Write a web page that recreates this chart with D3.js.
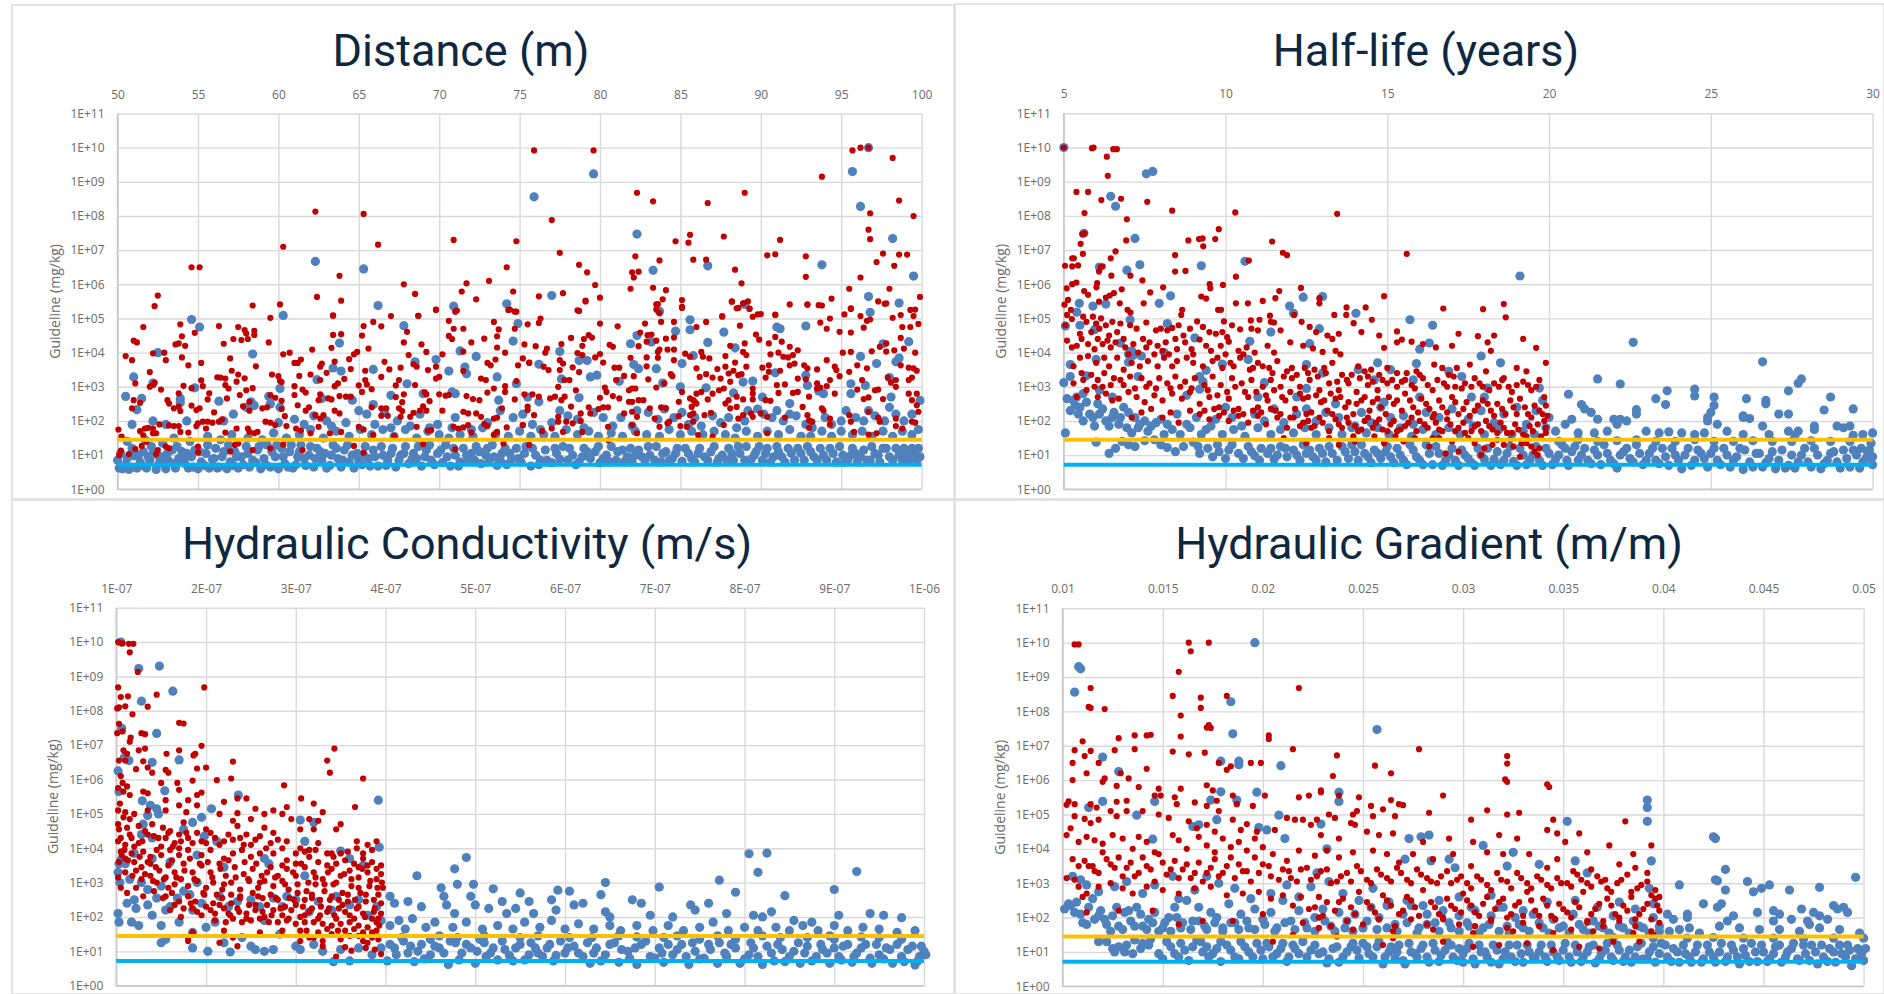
<!DOCTYPE html>
<html lang="en">
<head>
<meta charset="utf-8">
<title>Guideline sensitivity scatter</title>
<script src="https://cdn.jsdelivr.net/npm/d3@7"></script>
<style>
html,body{margin:0;padding:0;background:#fff;}
svg{display:block;}
</style>
</head>
<body>
<div id="chart"></div>
<script>
// points are [x, log10(guideline in mg/kg)]
var guidelineOrange = 28, guidelineBlue = 5.2;
var yExponents = [0,1,2,3,4,5,6,7,8,9,10,11];

var distanceTicks = [50,55,60,65,70,75,80,85,90,95,100];
var halfLifeTicks = [5,10,15,20,25,30];
// conductivity x is in units of 1E-07 m/s
var conductivityTicks = [1,2,3,4,5,6,7,8,9,10];
var conductivityLabels = ["1E-07","2E-07","3E-07","4E-07","5E-07","6E-07","7E-07","8E-07","9E-07","1E-06"];
var gradientTicks = [0.01,0.015,0.02,0.025,0.03,0.035,0.04,0.045,0.05];

var distanceBlue = [[96.7,10],[79.6,9.23],[95.7,9.3],[75.9,8.56],[96.2,8.28],[82.3,7.47],[98.2,7.34],[62.3,6.67],[65.3,6.45],[93.8,6.57],[86.7,6.54],[83.3,6.41],[99.5,6.24],[77,5.67],[96.7,5.64],[70.9,5.36],[74.2,5.43],[66.2,5.38],[89,5.41],[98.6,5.45],[96.8,5.18],[83.7,5.21],[60.3,5.09],[54.6,4.97],[55.1,4.75],[85.6,4.96],[74.9,4.85],[85.6,4.67],[67.8,4.79],[91,4.75],[91.2,4.7],[92.8,4.78],[84.7,4.63],[87.7,4.6],[82.3,4.5],[81.9,4.26],[83.2,4.31],[63.8,4.28],[74.6,4.34],[86.7,4.3],[97.6,4.26],[99.2,4.32],[52.5,4],[58.4,3.96],[77.5,4.03],[71.3,4.05],[85.8,3.91],[88.4,4.14],[72.3,3.89],[96.2,3.89],[98.6,3.84],[68.5,3.73],[69.8,3.8],[78.7,3.77],[79.2,3.77],[65.9,3.51],[63.4,3.55],[63.9,3.46],[85.1,3.68],[83.5,3.53],[97.2,3.68],[98.4,3.73],[76.2,3.66],[71.6,3.58],[70.6,3.46],[71.7,3.38],[82.1,3.65],[82.4,3.53],[90.9,3.41],[51,3.29],[98,3.27],[92.8,3.34],[77.6,3.23],[79.8,3.34],[79.4,3.29],[73.6,3.29],[62.4,3.21],[68,3.09],[89.5,3.17],[74.8,3.09],[81.2,3.16],[83.9,3.11],[88.9,3.14],[95.6,3.09],[52.2,3.11],[60.1,2.95],[54.8,2.97],[92.9,3.04],[93.6,2.88],[96.5,3.04],[85,3],[86.6,2.97],[50.5,2.72],[51.5,2.66],[53.9,2.66],[53.9,2.54],[56.3,2.58],[58.3,2.56],[59.4,2.72],[62.7,2.66],[64.6,2.61],[65.9,2.48],[67,2.75],[69,2.8],[71,2.8],[70.8,2.85],[73.7,2.61],[75.5,2.7],[76.2,2.56],[78.7,2.68],[88.3,2.82],[90.1,2.7],[91.8,2.51],[93.9,2.8],[95.6,2.8],[98.1,2.7],
[51.2,2.33],[52.2,2],[50.9,1.9],[53,1.9],[54.3,2],[56.6,2],[57.2,2.2],[58,2.4],[58.5,2.45],[59.5,2.5],[60,1.95],[60.1,2.4],[61,2.05],[61.6,1.9],[62.2,2.15],[63,2],[63.3,1.85],[64.2,1.95],[65,2.3],[65.5,2.2],[66,1.9],[66.6,2.25],[67,1.8],[67.4,2],[68.2,1.85],[68.8,2.2],[69.4,1.8],[69.9,1.9],[70.8,1.8],[71,2.1],[72,1.75],[73,1.95],[73.8,2.3],[74.6,2.1],[75.2,2.2],[75.8,1.9],[76.3,1.75],[77,1.95],[77.5,2.3],[78,2.15],[78.6,2.05],[79,1.8],[79.6,2.25],[80.2,2.1],[80.8,1.85],[81.3,2.1],[82,1.85],[82.3,2.3],[83,2.25],[83.6,2.05],[84,2.35],[84.6,2.1],[85.1,2.25],[85.5,1.9],[85.9,2.1],[86.3,1.85],[87,2.15],[87.5,1.95],[88,2.1],[88.5,1.8],[89,2],[89.2,2.3],[89.8,2.35],[90.2,2.2],[90.7,2.1],[91,2.3],[91.4,2],[91.8,2.2],[92.2,2.15],[92.8,1.9],[93.2,1.8],[94,2.1],[94.4,1.9],[95,2],[95.3,2.3],[95.9,2.1],[96.4,2],[96.7,2.3],[97.1,2.15],[97.7,2],[98,2.4],[98.4,2.2],[98.9,2],[99.4,2.2],[99.9,2.6],
[50,0.85],[50.1,0.62],[50.3,0.6],[50.5,0.72],[50.7,0.58],[50.9,0.65],[51,0.98],[51.2,0.62],[51.4,0.8],[51.6,1.1],[51.8,0.62],[52,0.85],[52.2,1.05],[52.4,0.58],[52.6,0.78],[52.8,0.95],[53,0.6],[53.2,0.82],[53.4,1.15],[53.6,0.62],[53.8,0.9],[54,1.1],[54.2,0.75],[54.4,0.62],[54.6,0.95],[54.8,1.15],[55,0.6],[55.2,0.8],[55.5,1.05],[55.7,0.62],[55.9,0.88],[56.1,1.2],[56.3,0.65],[56.5,0.95],[56.8,0.6],[57,0.8],[57.3,1.1],[57.5,0.62],[57.7,0.95],[58,1.25],[58.2,0.65],[58.4,0.85],[58.7,1.15],[58.9,0.6],[59.1,0.9],[59.3,1.3],[59.5,0.65],[59.8,0.95],[60,0.6],[60.2,1.2],[60.4,0.75],[60.7,1.1],[60.9,0.62],[61.2,0.95],[61.4,1.3],[61.7,0.7],[61.9,1],[62.2,0.65],[62.4,1.2],[62.7,0.85],[62.9,1.05],[63.2,0.7],[63.4,1.3],[63.7,0.9],[63.9,0.65],[64.1,1.15],[64.4,0.8],[64.7,0.62],[64.9,1.05],[65.2,0.72],[65.4,1.25],[65.6,0.9],[65.9,1.15],[66.2,0.68],[66.5,1],[66.8,0.85],[67.1,1.2],[67.3,0.65],[67.6,1],[67.9,1.25],[68.1,0.75],[68.4,1.05],[68.6,0.9],[68.9,0.68],[69.2,1.15],[69.5,0.85],[69.9,1.05],[70.2,0.78],[70.4,1.3],[70.7,0.68],[71,1],[71.3,0.8],[71.5,1.2],[71.8,0.85],[72,1.05],[72.3,1.25],[72.6,0.75],[72.9,1],[73.1,0.85],[73.3,1.3],[73.6,0.7],[73.9,1.05],[74.2,0.72],[74.5,0.88],[74.8,1.2],[75.1,0.8],[75.4,1.25],[75.7,0.68],[76,1],[76.3,0.85],[76.6,1.15],[77,0.78],[77.3,1.05],[77.7,1.25],[78,0.85],[78.3,1],[78.7,0.8],[79,1.2],[79.4,0.9],[79.7,1.1],[80,0.78],[80.4,1],[80.7,1.25],[81,0.85],[81.4,1.15],[81.7,0.95],[82,0.8],[82.4,1.15],[82.8,0.85],[83.1,1],[83.5,1.25],[83.8,0.8],[84.1,1.1],[84.5,0.9],[84.8,1.2],[85.1,0.82],[85.5,1.05],[85.9,0.8],[86.2,1.2],[86.5,0.95],[86.9,1.1],[87.3,0.8],[87.6,1],[88,1.2],[88.3,0.85],[88.7,1.05],[89.1,1.25],[89.4,0.88],[89.7,1.1],[90.1,0.85],[90.4,1.2],[90.8,0.95],[91.1,1.1],[91.5,0.8],[91.9,1.05],[92.3,1.2],[92.7,0.85],[93.1,1.1],[93.5,0.85],[93.9,1],[94.3,1.2],[94.7,0.8],[95.1,1],[95.4,0.85],[95.7,1.2],[96,0.8],[96.4,1.15],[96.8,0.85],[97.1,1.05],[97.4,0.8],[97.8,1.2],[98.2,0.85],[98.6,1],[98.9,1.2],[99.2,0.85],[99.5,1.05],[99.8,1.2],[99.9,0.95]];

// second reading pass over the low band of the Distance panel
var distanceBlueBand = [[50.2,1.05],[50.6,0.9],[50.9,1.2],[51.3,1],[51.5,0.7],[51.9,0.95],[52.1,1.25],[52.5,1],[52.9,0.72],[53.1,1.05],[53.5,0.75],[53.7,1.25],[54.1,0.85],[54.3,1.05],[54.7,0.65],[55.1,1.1],[55.4,0.7],[55.6,1.3],[56,0.9],[56.2,0.62],[56.6,1.1],[56.9,1.3],[57.2,0.7],[57.4,0.95],[57.8,0.72],[58.1,1.05],[58.6,0.78],[58.8,1.25],[59.2,0.72],[59.6,1.1],[59.9,1.3],[60.3,0.95],[60.6,0.65],[60.8,1.3],[61.1,0.72],[61.3,1.1],[61.6,0.9],[62,1.25],[62.3,0.9],[62.6,1.1],[63,0.62],[63.3,1],[63.6,1.2],[64,0.85],[64.3,1.3],[64.6,1],[65,0.85],[65.3,1],[65.7,0.68],[66,0.95],[66.4,1.25],[66.7,0.7],[67,1.05],[67.5,0.85],[67.8,1.05],[68.3,0.88],[68.7,1.25],[69.1,0.95],[69.4,1.3],[69.7,0.72],[70.1,1.15],[70.5,0.95],[70.9,1.2],[71.2,0.68],[71.7,1],[72.2,0.85],[72.5,1.1],[73,1.2],[73.4,0.95],[73.8,0.85],[74.1,1.2],[74.4,1.05],[74.9,0.9],[75.3,1.05],[75.8,1.2],[76.2,0.72],[76.7,0.85],[77.2,1.2],[77.5,0.88],[78.1,1.2],[78.5,0.72],[78.9,0.95],[79.2,1.1],[79.9,1.25],[80.2,0.9],[80.6,0.8],[81.1,1.1],[81.5,0.8],[81.9,1.2],[82.2,1],[82.6,0.95],[83,1.25],[83.4,0.85],[83.9,1.05],[84.3,0.85],[84.7,1.05],[85.3,1.2],[85.7,0.9],[86.1,1.05],[86.7,0.85],[87.1,1.25],[87.4,0.9],[87.9,0.85],[88.2,1.05],[88.6,1.25],[89,0.85],[89.6,1],[89.9,1.25],[90.3,1.05],[90.6,0.8],[91,1.25],[91.3,0.95],[91.7,1.2],[92.1,0.85],[92.5,1.05],[92.9,1.25],[93.3,0.95],[93.7,1.2],[94.1,0.85],[94.5,1.05],[94.9,1.25],[95.2,0.8],[95.6,1],[95.9,1.05],[96.2,0.95],[96.6,0.85],[96.9,1.25],[97.3,1],[97.6,1.2],[98,0.95],[98.4,1.2],[98.8,0.85],[99.1,1.05],[99.4,1.2],[99.7,0.85],
[50.6,1.4],[51.7,1.45],[52.8,1.35],[53.5,1.5],[54.5,1.4],[55.6,1.55],[56.4,1.45],[57.1,1.6],[58.1,1.5],[59,1.45],[59.7,1.65],[60.5,1.5],[61.3,1.6],[62,1.75],[62.8,1.5],[63.6,1.7],[64.4,1.55],[65.1,1.75],[65.8,1.6],[66.5,1.75],[67.2,1.55],[67.9,1.75],[68.6,1.5],[69.3,1.7],[70,1.6],[70.6,1.5],[71.3,1.6],[72.1,1.55],[72.7,1.8],[73.5,1.6],[74.3,1.55],[75,1.7],[75.7,1.55],[76.5,1.6],[77.2,1.55],[77.9,1.75],[78.6,1.6],[79.3,1.7],[79.9,1.55],[80.7,1.65],[81.4,1.55],[82.2,1.7],[82.9,1.6],[83.7,1.55],[84.3,1.75],[85,1.6],[85.7,1.7],[86.4,1.6],[87.1,1.7],[87.8,1.6],[88.4,1.5],[89.1,1.7],[89.8,1.55],[90.4,1.7],[91.1,1.6],[91.8,1.75],[92.5,1.55],[93.1,1.55],[93.8,1.7],[94.4,1.55],[95,1.7],[95.7,1.6],[96.3,1.7],[96.9,1.55],[97.6,1.7],[98.2,1.55],[98.8,1.7],[99.4,1.6],[99.8,1.75]];

var distanceRed = [[75.9,9.92],[79.6,9.92],[95.7,9.92],[96.2,10],[96.7,10],[98.2,9.7],[93.8,9.15],[82.3,8.68],[89,8.68],[83.3,8.43],[86.7,8.38],[98.6,8.45],[62.3,8.13],[65.3,8.06],[96.8,8.08],[99.5,8],[77,7.88],[96.7,7.6],[85.6,7.45],[87.7,7.4],[70.9,7.3],[84.7,7.26],[85.5,7.22],[74.8,7.26],[91.2,7.3],[96.8,7.32],[66.2,7.16],[60.3,7.1],[77.5,6.92],[90.4,6.85],[90.9,6.88],[92.8,6.82],[97.6,6.9],[98.6,6.87],[99.1,6.87],[82.2,6.82],[83.7,6.7],[85.8,6.72],[86.6,6.72],[97.2,6.65],[54.6,6.5],[55.1,6.5],[74.2,6.5],[78.7,6.57],[88.4,6.43],[98.3,6.54],[63.8,6.25],[79.2,6.35],[82,6.35],[82.4,6.37],[82.1,6.2],[92.8,6.22],[96.2,6.2],[73.1,6.1],[88.8,6.03],[71.7,6.03],[67.8,6],[79.7,5.98],[81.9,5.87],[83.3,5.9],[84.1,5.83],[71.4,5.79],[95.5,5.87],[98,5.87],[68.5,5.72],[74.6,5.79],[52.5,5.67],[62.4,5.63],[76.2,5.65],[77.7,5.74],[80,5.61],[83.9,5.56],[99.9,5.63],[63.9,5.52],[72.3,5.56],[79.1,5.52],[85.1,5.54],[88.2,5.5],[94.4,5.58],[97.3,5.5],[89.2,5.5],[52.3,5.36],[58.4,5.38],[60.1,5.41],[83.5,5.41],[93.8,5.38],[91.8,5.41],[92.9,5.41],[97.7,5.43],[88.6,5.31],[89.3,5.28],[95.6,5.28],[85.1,5.31],[78.7,5.22],[74.3,5.25],[74.8,5.2],[99.3,5.25],[71.1,5.23],[69.8,5.25],[63.4,5.08],[68.7,5.08],[83.7,5.15],[87.6,5.05],[90,5.13],[90.9,5.11],
[51.6,4.75],[53.9,4.83],[54,4.48],[54.8,4.58],[56.3,4.78],[57.5,4.75],[57.9,4.66],[58,4.56],[58.5,4.64],[58.5,4.52],[57.2,4.4],[57.7,4.37],[58.1,4.4],[56.6,4.26],[59.4,4.3],[59.5,5.02],[63.4,5.09],[67,5.07],[68.7,5.08],[69.8,5.26],[63.4,4.52],[63.9,4.54],[63.3,4.14],[65.3,4.78],[65.2,4.5],[65.9,4.9],[66.4,4.77],[68,4.61],[67.8,4.3],[68.9,4.24],[70.6,4.93],[71,5.2],[70.9,4.7],[71.5,4.7],[70.6,4.49],[70.8,4.4],[72,4.3],[72.8,4.41],[73.4,4.9],[73.7,4.68],[73.6,4.48],[74.4,5.26],[74.7,5.2],[74.7,4.7],[75.5,4.83],[75.3,4.24],[53.6,4.24],[53.8,4.27],[54.2,4.2],[51,4.35],[51.2,4.3],[52.2,3.98],[52.9,4],[50.5,3.9],[50.9,3.78],[53,3.78],[54,3.86],[54.4,3.63],[55.2,3.7],[57,3.83],[52,3.43],[57.1,3.47],[57.5,3.36],[58.6,3.6],[60.3,3.95],[60.7,4],[62.1,4.09],[64.4,3.81],[64.7,3.95],[64.9,4.02],[65.6,4.12],[61,3.7],[61.2,3.7],[61.4,3.8],[62.7,3.68],[62.6,3.59],[63.5,3.74],[63,3.41],[64.5,3.52],[65.4,3.47],[66.6,3.73],[66.9,3.51],[67.6,3.56],[68.1,3.93],[69.2,4.02],[70.2,3.95],[68.4,3.66],[68.6,3.59],[69.3,3.49],[69.8,3.59],[71.5,4.03],[71.5,3.46],[73,3.7],[73.2,3.63],[73.5,3.8],[74.1,4],[73.6,4.15],[75.2,3.83],[74.9,3.63],[75.6,3.7],
[51.1,3.1],[52.3,3.12],[52,3],[52.2,3.05],[54.1,3.03],[54.6,2.96],[55.2,3.19],[55.3,3.02],[56.2,3.28],[56.4,3.27],[56.7,3.24],[56.7,3.05],[56.9,2.95],[57.9,3.25],[57.4,3.15],[58.4,2.96],[59.6,3.36],[60,3.31],[60.1,3.17],[60.2,3.14],[61.3,3.32],[61,3.02],[62,3.36],[62.6,3.2],[63.5,3.02],[63.7,3.1],[64.1,3.23],[65,3.04],[65.4,3.2],[65.5,3.07],[65.2,2.85],[65.8,2.93],[66.4,3.29],[67.3,3.04],[67.5,3.2],[68.5,3.05],[69.8,3.24],[70,3.29],[70.6,2.76],[72.6,3.24],[72.9,3.2],[73.4,2.95],[74.1,3.02],[74.8,3.17],
[51,2.61],[50.9,2.37],[51.4,2.53],[52.7,2.92],[53.8,2.81],[53.1,2.61],[53.2,2.51],[53.5,2.37],[53.8,2.42],[53.9,2.29],[54.6,2.45],[54.9,2.32],[55.1,2.37],[55.6,2.63],[55.7,2.81],[56,2.25],[56.8,2.66],[57.6,2.76],[58,2.9],[58.2,2.56],[57.8,2.43],[58.2,2.3],[59,2.37],[59.3,2.4],[59.5,2.76],[59.8,2.68],[60.2,2.59],[60.2,2.35],[60.4,2.14],[61.2,2.46],[61,2.76],[61.5,2.92],[61.7,2.83],[61.7,2.3],[61.9,2.4],[62.5,2.61],[62.6,2.78],[63.1,2.66],[63.3,2.63],[63.8,2.73],[64.2,2.71],[64.5,2.71],[63.5,2.3],[63.8,2.22],[62.8,2.17],[62.6,2.07],[62.3,2.17],[67.3,2.7],[67.7,2.55],[67.8,2.78],[65.8,2.4],[66.4,2.37],[66.7,2.37],[66.4,2.15],[66.8,2.15],[67.5,2.37],[67.7,2.29],[67.6,2.12],[68.2,2.12],[68.4,2.24],[68.8,2.3],[69.1,2.84],[69.2,2.78],[69.4,2.58],[69,2.43],[69.2,2.3],[70,2.78],[70.4,2.74],[70.2,2.3],[71.5,2.27],[71.7,2.73],[72.1,2.64],[72.5,2.61],[71.8,2.22],[72.3,2.22],[72.6,2.12],[73,2.83],[74.1,2.85],[74.7,2.63],[73.9,2.37],[73.4,2.07],[73.6,2.1],[75.5,2.42],
[52.2,1.78],[51.7,1.78],[51.9,1.8],[51.4,1.7],[51.6,1.58],[52.2,1.64],[52.4,1.64],[52.6,1.9],[53.2,1.87],[53.5,1.85],[53.8,1.85],[53.9,1.68],[54.4,1.66],[54.9,1.85],[55,1.93],[55.5,1.78],[55.3,1.98],[55.6,1.98],[55.9,1.95],[56.3,1.98],[56.5,2.05],[56.7,1.66],[57.4,1.78],[58.1,1.78],[58.2,1.68],[58.5,1.64],[58.7,1.68],[59.2,1.98],[59.5,1.95],[59.8,1.88],[60.5,1.85],[61.1,1.78],[61.4,1.72],[62,1.64],[62.5,1.83],[63.2,1.64],[63.9,1.68],[65,1.83],[65.3,1.75],[65.9,1.59],[67.2,1.56],[68.6,1.83],[69.3,1.72],[69.5,1.73],[70.9,1.83],[71.2,1.78],[71.5,1.81],[71.8,1.88],[72,1.66],[72.8,1.91],[73,1.85],[73.4,1.59],[73.6,1.68],[74.2,1.81],[75.2,1.88],[50.05,1.75],[50.25,1.54],[50.1,1],[50.2,1.13],[50.7,1.03],[51.1,1.18],[51.5,1.27],[51.8,1.39],[52.4,1.03],[52.5,1.15],[53,1.25],[53.2,1.2],[55,1.25],[55,1.08],[57,1.11],[57.3,1.3],[57.5,1.34],[58.4,1.15],[59.5,1.2],[60.3,1.31],[61.5,1.15],[64.7,1.27],[65.3,1.07],[69,1.32],[71,1.17],[74,1.34],
[78.6,5.24],[79.1,5.5],[83.6,5.42],[83.5,5.26],[85.1,5.34],[87.6,5.07],[88.2,5.49],[88.5,5.3],[88.9,5.44],[89.3,5.29],[89.5,5.05],[89.8,5.12],[90.9,5.1],[92.9,5.4],[93.6,5.39],[95.2,5.12],[95.6,5.3],[96.2,5.07],[96.6,4.93],[96.8,4.97],[98.2,5.02],[98.7,5.1],[99.5,5.07],[99.6,5.26],[97.8,5.44],[76.3,5],[76.2,4.87],[80,4.85],[81.1,4.77],[82.8,4.85],[83.8,4.9],[84.6,4.9],[86,4.75],[86.6,4.9],[88.7,4.79],[93.7,4.88],[94.3,5],[94.1,4.7],[94.9,4.61],[95.6,4.59],[96.4,4.73],[98.8,4.75],[99.3,4.75],[99.8,4.84],[78.2,4.43],[79.3,4.51],[79,4.4],[79.5,4.44],[78.9,4.2],[77.6,4.25],[76,4.19],[76.7,4.12],[76.6,4],[78.6,3.99],[78.9,3.93],[77.5,3.78],[77.7,3.68],[75.6,3.71],[76.5,3.59],[76.8,3.49],[77.5,3.49],[78.3,3.57],[78.7,3.43],[80,3.96],[79.7,3.86],[80.2,3.71],[80.6,4.23],[80.8,4.17],[82.5,4.59],[82.96,4.51],[83.2,4.53],[83.5,4.35],[82.9,4.32],[82.4,4.19],[84.1,4.41],[84.6,4.44],[84.6,4.09],[84.2,4.09],[83.7,4.09],[83.6,4.02],[81.9,3.85],[82.9,3.86],[83.6,3.85],[84.6,3.78],[80.9,3.56],[81.2,3.56],[81.5,3.32],[82.1,3.31],[82.9,3.6],[84.4,3.37],[84.5,3.31],[83,3.22],[81,3.2],[85.3,3.97],[85.6,3.88],[86.3,4.02],[86.4,3.88],[86.8,3.83],[87.8,3.9],[88.1,4.2],[89,4.27],[88.9,4.02],[89.1,3.93],[89.1,3.59],[88.4,3.71],[87.8,3.59],[88.3,3.47],[88,3.39],[87.3,3.52],[86.6,3.37],[86,3.54],[86.2,3.29],[87,3.27],[87.5,3.24],[88.1,3.15],[88.6,3.34],[88.8,3.37],[89.7,4.53],[89.9,4.38],[90.5,4.27],[90.9,4.46],[91.3,4.32],[91.8,4.17],[92.3,4.07],[90.6,3.95],[91.1,4],[91.4,3.88],[92,3.93],[91.7,3.86],[90.1,3.56],[90.5,3.63],[90.5,3.44],[90.3,3.27],[91.2,3.47],[91.8,3.63],[92.1,3.68],[92.7,3.63],[92.9,3.54],[92.3,3.24],[92.8,3.22],[93.5,3.51],[93.5,3.1],[94.1,3.78],[94.6,3.59],[94.7,3.49],[94.9,3.31],[94.3,3.2],[95.1,4],[95.6,4.02],[95.5,3.44],[96,3.63],[96.6,3.54],[96.3,3.2],[96.9,4.04],[97.8,4.27],[97.4,4.17],[97.8,4.03],[98.7,4.43],[98.9,4.12],[98.3,4.07],[99.6,4],[99.2,3.56],[99.5,3.54],[99.7,3.47],[97.9,3.27],[98.1,3.12],[98.4,3.2],[98.7,3.63],[99.4,3.27],[99.2,3.2],
[77.4,3],[77.8,3.2],[78.1,3.2],[78.5,2.9],[80.3,2.98],[80.4,2.85],[80.8,2.73],[81.2,2.66],[81.8,2.9],[82,2.95],[82.2,2.95],[83.5,2.98],[84,3.1],[86,2.8],[86.3,2.85],[85.1,2.85],[85.6,2.66],[85.8,2.61],[86,2.51],[87,2.8],[87.4,2.9],[87.7,2.95],[86.7,2.63],[88,2.61],[87.8,2.51],[88.5,2.71],[88.9,2.63],[89.5,2.95],[89.5,2.8],[89.5,2.63],[90.3,2.61],[90.6,2.59],[91.1,2.82],[91,3.05],[91.5,3.07],[92,2.82],[92.3,2.85],[93,2.71],[93.5,2.95],[93.7,2.98],[94.1,3.02],[94.6,2.8],[96,2.92],[96.4,2.64],[96.7,2.69],[97.1,2.9],[97.3,2.92],[97.6,2.64],[98.4,3],[99.2,2.8],[99.7,2.8],[99.4,2.61],[99.7,2.46],[76.9,2.66],[77.2,2.71],[77.6,2.61],[77.8,2.71],[75.3,2.78],[75.8,2.78],[76.2,2.71],[75.5,2.32],[75.9,2.17],[75.2,1.88],[77.4,2.12],[77.4,1.98],[77.9,1.98],[78.2,2.42],[78.3,1.93],[78.8,2.22],[78.8,2],[79.3,2.4],[79.4,2.22],[80,2.68],[79.9,2.35],[80.2,2.4],[80.5,2.4],[80.5,1.83],[78.9,1.68],[77,1.78],[76.4,1.7],[77.7,1.68],[82,2.56],[82.4,2.61],[82.7,2.61],[82,2.27],[82.3,2.12],[81.8,2.56],[81.5,2.22],[82,1.88],[82.3,1.64],[83.4,2.07],[83.7,1.83],[84.2,1.93],[84.3,1.98],[84.9,2.14],[85,1.85],[84.9,2.56],[84.1,2.37],[83.8,2.4],[83.1,2.37],[85.7,2.41],[85.9,2.56],[85.6,2.17],[85.8,2.22],[85.4,1.83],[85.8,1.98],[86.5,2.17],[86.9,2.24],[87.7,1.88],[88.1,2.37],[88.5,2.41],[88.6,2.07],[88.9,2.17],[89.4,2.22],[89.5,2.12],[90,2.22],[90.4,2.12],[91.5,2.1],[90.4,1.64],[92.6,2.41],[92.9,2.17],[93,2.02],[93.2,1.98],[93,1.8],[93.8,2.37],[93.9,2.3],[94.3,2.07],[94.3,1.9],[95.5,2.17],[95.6,1.98],[95.8,1.68],[96.7,2.27],[96.7,1.6],[97.3,2.1],[97.4,1.98],[97.2,1.64],[98.4,2.07],[98.4,1.85],[98.8,1.78],[99.4,1.98],[99.8,2.27],[99.6,1.95],[75.6,1.3],[86.1,1.59],[87,1.54],[80.5,1.44]];

var halfLifeBlue = [[5,10],[7.55,9.23],[7.75,9.3],[6.45,8.57],[6.6,8.28],[5.62,7.49],[7.2,7.34],[10.6,6.67],[7.35,6.57],[9.25,6.54],[6.1,6.5],[6.95,6.41],[19.1,6.24],[8.3,5.66],[13,5.64],[12.4,5.62],[7.95,5.44],[5.48,5.44],[6.3,5.42],[5.9,5.36],[11.98,5.36],[5.4,5.18],[12.1,5.15],[14.03,5.15],[7.05,4.96],[15.7,4.96],[5.05,4.78],[5.5,4.8],[5.95,4.67],[8.2,4.85],[16.4,4.8],[12.9,4.7],[11.4,4.6],[10.75,4.33],[9.05,4.43],[22.6,4.3],[16.3,4.28],[12.6,4.26],[6.75,4.28],[8.1,4],[7.1,4.05],[7.15,3.92],[7,3.95],[7.4,3.9],[26.6,3.73],[16,4.1],[17.9,3.9],[14.7,3.7],[10.7,3.8],[15.9,3.68],[5.2,3.65],[6,3.8],[7,3.72],[18.5,3.7],[9.9,3.66],[12.5,3.65],[15.1,3.5],[9.4,3.48],[5.2,3.3],[5.7,3.32],[9.2,3.3],[9.3,3.15],[13,3.4],[14.1,3.5],[14.6,3.2],[16.9,3.45],[17.3,3.3],[21.5,3.23],[27.8,3.23],[27.7,3.1],[22.2,3.08],[7.3,3.3],[5,3.12],[11.2,3.12],[24.5,2.93],[15.8,3.2],[18.1,2.96],[19.7,2.96],[9.2,2.93],[27.4,2.88],[23.65,2.88],[12.5,2.95],[20.6,2.78],[24.5,2.73],[5.1,2.65],[5.4,2.7],[5.6,2.8],[6.1,2.9],[6.5,2.7],[8.8,2.75],[11,2.7],[12.2,2.7],[13.4,2.5],[14.9,2.55],[16,2.7],[17.6,2.7],[18,2.7],[19.8,2.6],[23.3,2.65],[28.7,2.7],[26.1,2.65],[25.1,2.7],[23.6,2.48],[25.1,2.45],[21,2.48],[28.5,2.32],[29.4,2.35],[22.7,2.33],[22.7,2.2],[21.1,2.35],[26.7,2.6],[26.7,2.5],[27.1,2.2],[27.4,2.2],[25,2.25],[24.9,2.1],[26,2.15],[26.2,2.07],[21.3,2.25],[21.5,2.05],[22,2.05],[22.2,2.05],[22.4,2],[24.9,2],[25.2,1.9],[26,2.1],[28.9,1.85],[29.3,1.85],[29.1,1.8],[26.6,1.85],[28.2,1.85],[27.4,1.7],[27.7,1.7],[28.2,1.75],[29.7,1.6],[30,1.65],
[5.05,1.65],[5.2,2.3],[5.35,2.45],[5.45,2.2],[5.6,2],[5.8,2.2],[5.95,1.85],[6.1,2.2],[6.3,2],[6.5,2.1],[6.7,1.9],[6.85,2.4],[7,2.25],[7.2,2.1],[7.3,1.8],[7.5,2],[7.7,1.85],[8,2.05],[8.2,1.9],[8.5,2.2],[8.8,1.9],[9.1,2.1],[9.4,1.75],[9.7,2.05],[10,2.4],[10.2,2.1],[10.5,1.85],[10.9,2.2],[11.2,2],[11.5,2.35],[11.8,1.95],[12.2,2.2],[12.5,2.35],[12.8,2],[13.1,2.25],[13.5,2.1],[13.9,1.8],[14.2,2.25],[14.5,1.95],[14.8,2.4],[15.1,2.1],[15.5,2.15],[15.8,1.9],[16.2,2.25],[16.6,2.1],[17,2.35],[17.5,2.05],[17.9,2.3],[18.3,1.95],[18.6,2.2],[19,2.4],[19.3,1.9],[19.6,2.3],[20,2.1],[20.2,1.7],[20.5,1.9],[20.7,2.05],[20.9,1.65],[21.4,1.65],[21.8,1.7],[22.1,1.9],[23,1.7],[23.4,1.65],[23.7,1.68],[24.1,1.65],[24.5,1.6],[24.8,1.65],[25.5,1.7],[26,1.6],[26.8,1.6],[27.6,1.58],[29.4,1.58],
[6,1.38],[6.4,1.05],[6.6,1.2],[6.8,1.4],[7,1.3],[7.2,1.25],[7.5,1.42],[7.8,1.45],[8,1.3],[8.2,1.22],[8.45,1.1],[8.7,1.25],[9,1.38],[9.2,1.05],[9.45,1.2],[9.6,0.95],[9.8,1.1],[10,0.9],[10.2,1.3],[10.4,1.05],[10.7,1.25],[10.9,0.98],[11.1,1.2],[11.3,1.05],[11.5,0.88],[11.7,1.25],[11.9,0.95],[12.1,1.15],[12.3,0.85],[12.5,1.05],[12.7,0.95],[12.9,1.2],[13.1,0.8],[13.3,1.05],[13.6,1.25],[13.8,0.9],[14,1.1],[14.2,1.3],[14.4,0.95],[14.6,1.15],[14.8,0.9],[15,1.25],[15.2,0.78],[15.4,1],[15.6,0.72],[15.8,1.15],[16,0.85],[16.2,1.3],[16.4,0.72],[16.6,1.05],[16.8,0.85],[17,1.2],[17.2,0.7],[17.4,1],[17.6,0.78],[17.8,1.2],[18,0.88],[18.2,0.7],[18.4,1.1],[18.6,0.85],[18.8,1.25],[19,0.7],[19.2,1],[19.4,0.85],[19.6,1.25],[19.8,0.7],[20,1.05],[20.2,0.88],[20.4,1.3],[20.6,0.7],[20.7,1.1],[20.9,0.85],[21.1,1.2],[21.3,0.75],[21.5,1],[21.7,1.3],[21.9,0.85],[22.1,0.62],[22.3,1.1],[22.5,0.9],[22.7,1.3],[22.9,0.72],[23.1,1.05],[23.3,0.85],[23.5,1.2],[23.7,0.7],[23.9,1],[24.1,0.6],[24.3,1.2],[24.5,0.85],[24.7,1.05],[24.9,0.65],[25.1,1.2],[25.3,0.72],[25.5,1],[25.7,0.85],[25.9,1.2],[26,0.58],[26.2,0.8],[26.4,1.05],[26.6,0.65],[26.8,0.9],[27,0.6],[27.2,1.15],[27.4,0.7],[27.6,0.62],[27.8,1],[28,0.8],[28.2,1.2],[28.4,0.6],[28.6,0.85],[28.8,1.1],[29,0.62],[29.2,0.9],[29.4,1.15],[29.6,0.62],[29.7,0.8],[29.85,1.05],[30,0.95],[30,0.72],[29.95,1.35]];

// second reading pass over the low band of the Half-life panel
var halfLifeBlueBand = [[5.3,2.6],[5.5,2.4],[5.7,2.55],[5.9,2.1],[6.05,2.5],[6.2,2.35],[6.4,1.85],[6.55,2.25],[6.75,2.1],[6.95,1.8],[7.1,1.65],[7.35,1.9],[7.6,1.7],[7.85,1.95],[8.1,1.6],[8.35,1.75],[8.6,1.6],[8.9,1.8],[9.25,1.6],[9.55,1.85],[9.9,1.6],[10.25,1.75],[10.6,1.55],[11,1.8],[11.4,1.6],[11.7,1.75],[12.1,1.65],[12.45,1.8],[12.8,1.6],[13.2,1.8],[13.6,1.6],[14,1.85],[14.35,1.65],[14.7,1.8],[15.05,1.6],[15.4,1.8],[15.75,1.55],[16.1,1.75],[16.5,1.6],[16.9,1.8],[17.25,1.6],[17.65,1.85],[18,1.6],[18.45,1.75],[18.85,1.6],[19.2,1.7],[19.55,1.6],[19.9,1.8],
[9.15,1.25],[9.75,1.3],[10.1,1.15],[10.55,0.9],[10.8,1.1],[11.05,0.85],[11.4,1.2],[11.6,1],[11.85,1.2],[12.2,1],[12.4,1.3],[12.6,1.15],[12.8,0.85],[13,1.05],[13.2,1.25],[13.45,0.85],[13.7,1.1],[13.9,1.3],[14.1,0.85],[14.3,1.05],[14.5,0.78],[14.7,1.05],[14.95,1.1],[15.1,0.95],[15.3,1.2],[15.5,0.85],[15.7,1.3],[15.9,0.95],[16.1,0.72],[16.3,1.05],[16.5,1.25],[16.7,0.7],[16.9,1],[17.1,0.85],[17.3,1.15],[17.5,0.9],[17.7,0.7],[17.9,1],[18.1,1.2],[18.3,0.88],[18.5,0.72],[18.7,1.05],[18.9,0.82],[19.1,1.2],[19.3,0.72],[19.5,1],[19.7,0.85],[19.9,1.2],[20.1,0.72],[20.3,1],[20.5,1.2],[20.55,0.85],[20.8,1.25],[21,1],[21.2,0.85],[21.4,1.15],[21.6,0.72],[21.8,1.05],[22,0.75],[22.2,1],[22.4,1.2],[22.6,0.8],[22.8,1.05],[23,0.85],[23.2,1.2],[23.4,0.75],[23.6,0.95],[23.8,1.2],[24,0.85],[24.2,1],[24.4,0.7],[24.6,1.15],[24.8,0.9],[25,1.05],[25.2,0.85],[25.4,1.2],[25.6,0.65],[25.8,0.95],[26.05,1.15],[26.3,0.65],[26.5,1.05],[26.7,0.78],[26.9,1.1],[27.1,0.85],[27.3,0.62],[27.5,1],[27.7,0.8],[27.9,1.2],[28.1,0.65],[28.3,1],[28.5,0.75],[28.7,1.05],[28.9,0.8],[29.1,1.15],[29.3,0.65],[29.5,1],[29.65,1.2],[29.8,0.9],[20.3,1.4],[20.9,1.45],[21.5,1.4],[22.1,1.42],[22.7,1.45],[23.3,1.4],[23.9,1.4],[24.5,1.45],[25.1,1.4],[25.7,1.4],[26.3,1.42],[26.9,1.4],[27.5,1.4],[28.1,1.42],[28.7,1.4],[29.3,1.4],[29.9,1.15]];

// second reading pass over the red cloud of the Half-life panel
var halfLifeRedExtra = [[5.5,4.55],[5.85,4.6],[6.1,4.7],[6.35,4.35],[6.65,4.6],[6.85,4.4],[7,3.95],[7.3,4],[7.55,4.15],[7.8,3.95],[8.05,4.05],[8.25,3.95],[8.5,4.1],[8.7,4.5],[9,3.95],[9.4,4.2],[9.75,3.85],[10,3.95],[10.25,3.6],[10.55,3.95],[10.85,3.55],[11.15,3.6],[11.45,3.4],[11.8,3.3],[12.05,3.55],[12.55,3.4],[12.85,3.3],[13.1,3.4],[13.45,3.15],[13.75,3.2],[14.15,3.25],[14.4,3.3],[14.55,3.15],[14.85,3.2],[15.15,3.2],[15.45,3.15],[15.75,3.05],[16,3.35],[16.25,3.05],[16.55,3.2],[16.85,3],[17.05,3.3],[17.3,2.95],[17.6,3],[17.85,3.1],[18.15,2.9],[18.45,3],[18.75,3],[19,3.05],[19.35,3.05],[19.6,3],[19.85,2.7],
[5.55,3.4],[5.95,3],[6.2,3],[6.45,3.05],[6.85,3.05],[7.2,2.95],[7.55,3],[7.85,2.95],[8.3,2.95],[8.6,3],[8.95,2.95],[9.45,2.9],[9.75,2.75],[10.05,2.85],[10.3,3],[10.6,2.85],[10.95,2.85],[11.25,2.75],[11.5,2.9],[11.75,2.7],[12,2.85],[12.3,2.8],[12.55,2.7],[12.8,2.75],[13.05,2.6],[13.25,2.8],[13.55,2.7],[13.8,2.55],[14.05,2.5],[14.3,2.7],[14.55,2.55],[14.8,2.4],[15.05,2.7],[15.3,2.6],[15.55,2.8],[15.8,2.4],[16.05,2.65],[16.3,2.35],[16.6,2.6],[16.85,2.25],[17.1,2.55],[17.35,2.35],[17.55,2.15],[17.8,2.45],[18.1,2.5],[18.3,2.15],[18.55,2.35],[18.8,2.6],[19,2.2],[19.25,2.4],[19.45,2.1],[19.7,2.3],[19.95,2.15],
[9.35,2.3],[9.65,2.35],[9.95,2.25],[10.25,2.3],[10.55,2.2],[10.85,2.3],[11.1,2.25],[11.4,2.35],[11.7,2.2],[12,2.1],[12.3,1.85],[12.55,2],[12.75,1.85],[13,1.95],[13.3,2.2],[13.5,1.9],[13.75,2.1],[14,1.85],[14.2,1.75],[14.4,2.1],[14.65,1.95],[14.85,1.75],[15.1,1.9],[15.3,1.7],[15.55,1.85],[15.75,2.1],[16,2],[16.25,1.8],[16.5,1.95],[16.7,1.7],[16.95,1.9],[17.2,1.8],[17.4,1.65],[17.7,1.85],[17.9,1.7],[18.15,1.85],[18.4,1.65],[18.6,1.8],[18.85,1.65],[19.05,1.75],[19.3,1.55],[19.5,1.7],[19.75,1.55],[19.9,1.65],[13.2,1.5],[13.95,1.55],[14.6,1.55],[15.25,1.55],[15.85,1.5],[16.6,1.5],[17,1.4],[17.7,1.35],[18.25,1.3],[18.8,1.45],[19.15,1.35],[19.45,1.25],[19.7,1.2]];

var halfLifeRed = [[5,10],[5.87,9.98],[5.92,10],[6.53,9.95],[6.64,9.95],[6.33,9.73],[6.36,9.17],[5.39,8.7],[5.75,8.7],[6.16,8.46],[6.77,8.5],[7.58,8.41],[5.64,8.08],[8.35,8.15],[10.3,8.1],[13.45,8.06],[6.95,7.9],[9.79,7.61],[5.57,7.46],[5.64,7.49],[6.93,7.28],[8.85,7.28],[9.18,7.32],[9.29,7.34],[9.68,7.32],[11.44,7.25],[5.52,7.18],[9.31,7.11],[5.59,6.89],[11.77,6.92],[11.9,6.85],[15.6,6.89],[6.6,6.96],[6.45,6.76],[8.44,6.85],[5.26,6.76],[5.31,6.76],[5.04,6.54],[5.26,6.52],[5.44,6.55],[6.14,6.5],[6.2,6.52],[6.09,6.37],[8.44,6.37],[8.76,6.39],[6.47,6.25],[7.06,6.25],[10.32,6.22],[7.43,6.11],[5.26,6],[5.39,6.05],[6.03,6.03],[6.01,5.91],[9.51,6],[9.92,5.98],[8.07,5.91],[10.72,6.69],[5.09,5.88],[9.53,5.88],[12.33,5.89],[6.79,5.85],[11.66,5.8],[5.63,5.8],[7.67,5.76],[5.75,5.69],[6.55,5.74],[6.42,5.67],[6.3,5.61],[9.25,5.64],[9.4,5.58],[12.9,5.59],[14.9,5.65],[11.54,5.59],[5.13,5.54],[6.09,5.49],[5.02,5.4],[6.73,5.44],[7.47,5.44],[10.32,5.44],[10.69,5.44],[11.15,5.51],[12.9,5.44],[18.6,5.42],[14.33,5.32],[13.74,5.32],[16.73,5.29],[17.96,5.27],[8.66,5.25],[9.77,5.25],[9.86,5.25],[5.22,5.25],[6.97,5.25],[8.63,5.1],[7.06,5.17],[12.12,5.1],[13.36,5.1],[13.73,5.1],[11.37,5.08],[18.66,5.03],[14.52,4.96],[11.5,4.88],[13.96,4.86],[9.95,4.91],[9.12,4.91],[10.78,4.94],[11.05,4.96],
[5.1,5.1],[5.25,4.98],[5.05,4.8],[5.6,5.05],[5.7,4.9],[5.9,5.05],[6,4.85],[6.15,5],[6.3,4.8],[6.5,4.9],[6.75,4.85],[7.05,4.8],[7.25,4.7],[7.55,4.88],[7.85,4.65],[8,4.7],[8.2,4.65],[8.35,4.72],[8.55,4.8],[8.9,4.7],[9.3,4.75],[9.5,4.6],[9.7,4.55],[9.9,4.6],[10.05,4.45],[10.2,4.8],[10.45,4.68],[10.8,4.7],[11,4.65],[11.4,4.9],[11.7,4.65],[12.35,4.9],[12.6,4.75],[12.8,4.6],[13.15,4.5],[13.3,4.4],[13.5,4.55],[14.2,4.6],[14.75,4.5],[15.3,4.62],[15.45,4.38],[15.75,4.32],[16.1,4.25],[17.2,4.55],[17.8,4.48],[18.3,4.5],[18.1,4.3],[19.2,4.4],[19.6,4.14],[18.2,4.05],[17,4.2],[16.5,4.15],[15.3,4.3],[14.9,4.14],[5.1,4.35],[5.25,4.15],[5.4,4.2],[5.55,4.4],[5.75,4.25],[5.95,4.1],[6.05,4.4],[6.2,4.25],[6.4,4.5],[6.45,4.15],[6.6,4.3],[6.9,4.15],[7.15,4.25],[7.45,4.4],[7.65,4.3],[7.9,4.2],[8.15,4.3],[8.45,4.4],[8.75,4.3],[8.95,4.1],[9.2,4.38],[9.55,4.05],[9.85,4.2],[10.1,4.32],[10.4,4.05],[10.65,4.15],[10.9,4],[11.3,4.2],[11.5,4],[12,4.3],[12.4,4.2],[12.7,4.12],[13,4.02],[13.4,4.05],[13.55,3.95],
[5.3,3.6],[5.5,3.85],[5.75,3.9],[6,3.7],[6.25,3.85],[6.4,3.6],[6.65,3.85],[6.85,3.5],[7.1,3.7],[7.35,3.6],[7.6,3.75],[7.9,3.6],[8.1,3.85],[8.35,3.6],[8.5,3.75],[8.8,3.85],[9,3.7],[9.3,3.6],[9.6,3.75],[9.9,3.55],[10.15,3.7],[10.45,3.85],[10.75,3.5],[11,3.7],[11.35,3.55],[11.6,3.75],[11.9,3.45],[12.2,3.35],[12.45,3.55],[12.75,3.5],[13.05,3.55],[13.3,3.7],[13.6,3.35],[13.9,3.35],[14.1,3.6],[14.3,3.45],[14.5,3.5],[14.75,3.35],[15,3.55],[15.3,3.4],[15.6,3.4],[15.9,3.45],[16.45,3.65],[16.7,3.55],[16.9,3.35],[17.15,3.55],[17.55,3.65],[18.05,3.45],[18.6,3.25],[19,3.55],[19.3,3.45],[19.9,3.7],[5.3,3.1],[5.6,3.2],[5.85,3.35],[6.05,3.2],[6.25,3.4],[6.55,3.25],[6.75,3.2],[7.05,3.3],[7.4,3.25],[7.65,3.1],[7.95,3.25],[8.2,3.1],[8.45,3.3],[8.75,3.15],[9.05,3.25],[9.35,3.05],[9.6,3.3],[9.85,3.05],[10.2,3.25],[10.5,3.1],[10.8,3.2],[11.15,3],[11.4,3.2],[11.7,3],[12.05,3.25],[12.3,3],[12.6,3.2],[12.9,2.9],[13.2,3.1],[13.5,2.9],[13.8,3.1],[14.05,2.85],[14.4,3.05],[14.7,2.9],[15,3.1],[15.3,3],[15.55,3.2],[15.85,2.95],[16.1,3.25],[16.4,2.9],[16.75,3.1],[17.1,3],[17.4,3.1],[17.7,3.25],[17.95,3],[18.3,3.1],[18.55,3.2],[18.85,2.85],[19.2,3.15],[19.45,2.9],[19.7,3.2],[5.4,2.7],[5.7,2.9],[6.05,2.7],[6.3,2.8],[6.5,2.6],[6.7,2.65],[7,2.85],[7.25,2.7],[7.5,2.55],[7.8,2.75],[8.05,2.6],[8.35,2.8],[8.65,2.65],[8.9,2.85],[9.2,2.5],[9.5,2.7],[9.8,2.4],[10.1,2.65],[10.4,2.35],[10.7,2.7],[11,2.4],[11.3,2.6],[11.55,2.3],[11.85,2.6],[12.15,2.35],[12.4,2.65],[12.65,2.25],[12.95,2.55],[13.15,2.3],[13.4,2.65],[13.7,2.4],[13.95,2.2],[14.2,2.6],[14.45,2.3],[14.7,2.65],[14.95,2.2],[15.2,2.5],[15.45,2.3],[15.7,2.6],[15.95,2.25],[16.2,2.5],[16.45,2.2],[16.7,2.4],[17,2.7],[17.2,2.2],[17.45,2.55],[17.7,2.3],[17.95,2.6],[18.2,2.3],[18.4,2.5],[18.65,2.2],[18.9,2.4],[19.1,2.65],[19.35,2.2],[19.55,2.45],[19.8,2.2],[19.9,2.45],
[7.1,2.1],[7.4,2.25],[7.7,2.35],[8.05,2.1],[8.3,2.25],[8.55,1.95],[8.9,2.3],[9.2,2.2],[9.5,2.05],[9.8,2.15],[10.1,2],[10.4,2.15],[10.7,1.95],[11,2.15],[11.25,1.9],[11.6,2.1],[11.9,1.8],[12.1,2.1],[12.4,1.95],[12.5,2.2],[12.65,1.8],[12.9,2.1],[13.2,1.7],[13.4,2.05],[13.6,1.8],[13.8,1.95],[14.1,1.7],[14.3,2],[14.55,1.8],[14.75,2.05],[15,1.7],[15.2,2],[15.4,1.75],[15.65,1.95],[15.9,1.7],[16.15,1.9],[16.4,2.1],[16.6,1.75],[16.85,2.05],[17.1,1.7],[17.35,1.95],[17.6,1.7],[17.8,1.9],[18.05,2],[18.25,1.75],[18.5,1.95],[18.7,1.65],[18.95,1.9],[19.2,1.6],[19.4,1.85],[19.65,1.9],[19.85,2],[19.9,1.8],[13.5,1.3],[14,1.4],[14.9,1.35],[15.5,1.4],[16.3,1.25],[16.8,1.05],[17.2,1.1],[17.9,1],[18,1.2],[18.6,1.3],[18.9,1.25],[19.3,1.35],[19.55,1.1],[19.1,0.95],[19.65,1],[12.5,1.35],[11.8,1.5],[16.4,1.5],[17.5,1.5],[18.4,1.45]];

var conductivityBlue = [[1.05,10],[1.25,9.23],[1.48,9.3],[1.63,8.57],[1.28,8.28],[1.06,7.49],[1.45,7.34],[1.09,6.65],[1.7,6.57],[1.14,6.55],[1.4,6.5],[1.02,6.25],[1.54,5.67],[1.03,5.65],[3.92,5.4],[1.29,5.38],[2.36,5.55],[1.38,5.25],[1.45,5.15],[1.47,5],[2.06,5.15],[1.95,4.9],[1.35,4.95],[1.3,4.7],[3.05,4.82],[3.2,4.75],[1.85,4.75],[1.75,4.55],[1.28,4.4],[1.4,4.3],[1.98,4.35],[2.12,4.2],[3.1,4.2],[3.93,4.03],[3.5,3.92],[1.05,3.65],[1.1,3.55],[1.03,3.55],[1.2,3.85],[1.4,3.7],[1.6,3.6],[1.9,3.8],[2.2,3.45],[2.65,3.7],[2.7,3.55],[3.6,3.7],[3.75,3.5],[4.9,3.73],[4.77,3.4],[8.05,3.84],[8.25,3.86],[8.15,3.3],[9.25,3.32],[4.35,3.2],[6.45,3],[7.72,3.07],[7.05,2.87],[4.98,2.95],[4.62,2.85],[4.8,2.95],[5.2,2.82],[5.5,2.7],[5.92,2.78],[6.05,2.75],[7.9,2.72],[9,2.8],[8.45,2.62],[9.75,1.98],[1.02,3.3],[1.15,3.1],[1.28,3],[1.35,2.8],[1.5,2.9],[1.75,2.75],[1.9,3],[2.9,2.6],[3.1,3.2],[4.05,2.6],[4.1,2.4],[4.25,2.45],[4.4,2.3],[4.65,2.6],[4.68,2.35],[4.77,2.1],[4.95,2.6],[5,2.35],[5.15,2.25],[5.3,2.45],[5.35,2.1],[5.45,2.25],[5.6,2.45],[5.65,2.1],[5.85,2.5],[5.9,2.2],[6.1,2.35],[6.2,2.4],[6.4,2.65],[6.45,2.15],[6.5,2],[6.75,2.5],[6.85,2.4],[6.95,2.05],[7.2,2],[7.4,2.35],[7.45,2.2],[7.6,2.4],[7.8,2.1],[8.1,2.05],[8.2,2],[8.3,2.15],[8.55,1.9],[8.75,1.85],[9.05,2.05],[9.4,2.1],[9.55,2.05],[9.9,1.6],[1.02,2.1],[1.03,1.85],[1.17,1.85],[1.2,2.5],[1.25,1.75],[1.4,2.05],[1.5,1.75],[1.55,2.2],[1.7,1.85],[1.85,2.2],[2,1.7],[2.1,1.85],[2.25,2.3],[2.5,2.5],[2.65,1.9],[2.85,2.3],[3.15,2.15],[3.4,2.2],[3.6,2.35],[3.8,2.05],[3.95,1.9],
[1.5,1.25],[1.55,1.35],[1.85,1.55],[1.85,1.1],[2.02,1],[2.2,1.25],[2.27,0.98],[2.4,1.4],[2.5,1.15],[2.55,1.05],[2.65,1],[2.75,1.05],[2.82,1.5],[3,1.15],[3.05,1.05],[3.2,1.2],[3.3,1],[3.42,0.7],[3.5,1.05],[3.6,0.72],[3.7,1.1],[3.85,0.9],[3.95,1.1],[4.02,0.72],[4.1,1.1],[4.2,1.3],[4.25,0.95],[4.32,0.7],[4.4,1.2],[4.5,0.9],[4.6,1.1],[4.7,0.62],[4.78,1.25],[4.85,0.95],[4.95,1.1],[5,0.65],[5.05,1.35],[5.12,0.85],[5.2,1.1],[5.3,1.3],[5.38,0.88],[5.45,1.1],[5.55,0.75],[5.62,1.25],[5.7,0.95],[5.8,1.1],[5.87,0.72],[5.95,1.3],[6,0.95],[6.1,1.15],[6.2,0.85],[6.28,0.65],[6.35,1.1],[6.45,0.9],[6.55,1.25],[6.6,0.68],[6.7,1],[6.8,0.62],[6.85,1.2],[6.95,0.85],[7.05,1.1],[7.1,0.68],[7.2,0.9],[7.3,1.2],[7.38,0.62],[7.45,1],[7.55,0.8],[7.6,1.2],[7.7,0.65],[7.78,0.95],[7.85,1.2],[7.95,0.65],[8.05,0.9],[8.1,1.1],[8.2,0.62],[8.3,0.95],[8.37,1.2],[8.45,0.7],[8.55,1],[8.62,0.65],[8.7,1.15],[8.8,0.85],[8.87,1.05],[8.95,0.65],[9.05,0.85],[9.1,1.15],[9.2,0.68],[9.25,0.95],[9.35,1.2],[9.42,0.65],[9.5,0.9],[9.58,1.1],[9.65,0.65],[9.75,0.85],[9.82,1.05],[9.9,0.6],[9.95,0.85],[10,1],[10.02,0.9],[9.97,1.15],[4.5,1.35],[5.5,1.4],[6.3,1.4],[7.1,1.4],[7.9,1.35],[8.7,1.4],[9.5,1.4],[4.8,1.4],[6.8,1.42],[7.5,1.35],[8.2,1.45],[9,1.35]];

// second reading pass over the low band of the Conductivity panel
var conductivityBlueBand = [[4.05,1.75],[4.15,1.9],[4.22,1.65],[4.3,1.95],[4.45,1.7],[4.55,1.85],[4.75,1.7],[4.9,1.85],[5.08,1.65],[5.25,1.75],[5.42,1.65],[5.55,1.85],[5.72,1.7],[5.85,1.9],[6,1.65],[6.15,1.8],[6.32,1.65],[6.5,1.75],[6.62,1.6],[6.8,1.75],[6.98,1.6],[7.15,1.75],[7.32,1.6],[7.5,1.7],[7.65,1.85],[7.82,1.6],[8,1.7],[8.15,1.6],[8.35,1.7],[8.5,1.6],[8.65,1.75],[8.82,1.6],[9,1.75],[9.15,1.6],[9.32,1.7],[9.5,1.65],[9.7,1.55],[1.04,3],[1.12,2.4],[1.22,2.25],[1.35,2.35],[1.45,2.55],[1.6,2.3],[1.68,2.55],[1.82,2.65],[1.95,2.4],[2.15,2.6],[2.35,2.45],[2.6,2.3],[2.75,2.55],[3,2.5],[3.25,2.45],[3.45,2.6],[3.7,2.5],[3.9,2.3],
[4.05,1.2],[4.12,0.9],[4.18,1.4],[4.28,1.15],[4.36,1],[4.43,0.78],[4.55,1.15],[4.65,0.95],[4.72,1.3],[4.82,0.75],[4.9,1.2],[5.02,1],[5.1,1.25],[5.17,0.95],[5.25,0.75],[5.33,1.05],[5.42,0.72],[5.5,1.2],[5.6,0.9],[5.67,1.1],[5.75,0.85],[5.83,1.2],[5.9,0.88],[6.03,1.1],[6.15,0.95],[6.25,1.25],[6.32,0.95],[6.4,0.72],[6.5,1.2],[6.63,1.05],[6.72,0.8],[6.78,1.1],[6.9,1.3],[7,0.8],[7.08,0.95],[7.15,1.2],[7.25,1.05],[7.35,0.85],[7.42,1.25],[7.5,0.78],[7.62,1.05],[7.72,1.25],[7.8,0.85],[7.9,1.1],[8,0.78],[8.07,1.25],[8.15,0.85],[8.25,1.15],[8.33,0.72],[8.42,1.05],[8.5,0.85],[8.6,1.25],[8.67,0.95],[8.75,0.72],[8.85,1.2],[8.92,0.95],[9,1.1],[9.08,0.75],[9.15,1.2],[9.22,0.85],[9.3,1.1],[9.4,0.8],[9.47,1.2],[9.55,0.78],[9.62,1.05],[9.7,1.2],[9.78,0.7],[9.87,1.15],[9.93,0.72],[4.6,1.45],[5.1,1.45],[5.7,1.45],[6.05,1.4],[6.6,1.45],[7.25,1.45],[7.7,1.45],[8.4,1.4],[8.95,1.45],[9.3,1.42],[9.75,1.35]];

// second reading pass over the red cloud of the Conductivity panel
var conductivityRedExtra = [[1.02,4.2],[1.06,3.8],[1.09,3.95],[1.13,3.65],[1.17,3.85],[1.22,3.35],[1.26,3.75],[1.32,3.25],[1.35,3.6],[1.41,3.05],[1.44,3.45],[1.5,3.8],[1.53,3.1],[1.58,2.85],[1.62,3.65],[1.67,3.15],[1.7,4],[1.76,3.35],[1.82,3.7],[1.87,3.1],[1.93,3.55],[1.97,2.7],[2.02,3.6],[2.07,3.15],[2.12,2.65],[2.16,3.4],[2.2,2.95],[2.25,3.65],[2.28,2.65],[2.33,3.15],[2.38,2.55],[2.43,3.6],[2.47,3.1],[2.52,2.7],[2.56,3.55],[2.6,3],[2.63,2.55],[2.68,3.3],[2.72,2.65],[2.77,3.15],[2.8,2.5],[2.85,3.5],[2.88,2.95],[2.93,2.55],[2.97,3.3],[3.02,2.7],[3.06,3.55],[3.1,2.5],[3.14,3],[3.18,2.65],[3.22,3.15],[3.27,2.5],[3.32,2.95],[3.36,3.3],[3.4,2.6],[3.45,3],[3.48,2.5],[3.54,3.25],[3.58,2.65],[3.62,3.1],[3.66,2.5],[3.7,2.85],[3.74,3.4],[3.78,2.65],[3.83,3.05],[3.87,2.5],[3.91,2.85],[3.96,3],[1.55,2.6],[1.65,2.35],[1.75,2.25],[1.83,2.4],[1.9,2.15],[2,2.3],[2.1,2.1],[2.2,2.25],[2.27,2.05],[2.37,2.15],[2.45,1.95],[2.55,2.35],[2.63,2.15],[2.73,2.05],[2.83,2.25],[2.92,1.95],[3,2.35],[3.1,2.05],[3.18,2.25],[3.27,2.05],[3.37,2.25],[3.43,2.05],[3.52,2.35],[3.6,2.05],[3.7,2.3],[3.77,2],[3.87,2.15],[3.92,1.95],[2.22,1.85],[2.4,1.85],[2.6,1.95],[2.8,1.85],[3,1.8],[3.2,1.85],[3.4,1.75],[3.6,1.85],[3.8,1.7],[3.93,1.75],[3.05,1.6],[3.25,1.55],[3.47,1.6],[3.65,1.65],[3.85,1.55],[3.15,1.4],[3.3,1.3],[3.5,1.35],[3.7,1.45],[3.8,1.25],[3.92,1.35],[2.6,1.55],[2.85,1.6],[2.2,1.6],[1.85,1.55],[1.8,1.3],[2.3,1.4],
[1.04,5.3],[1.08,4.9],[1.12,4.6],[1.17,4.3],[1.25,4.65],[1.29,4.2],[1.35,4.4],[1.47,4.3],[1.5,4.05],[1.58,4.45],[1.63,4.05],[1.7,4.4],[1.78,4.45],[1.85,4.15],[1.95,4.2],[2.05,4.45],[2.15,4.1],[2.25,4.4],[2.38,4.3],[2.5,4.1],[2.6,4.35],[2.72,4.15],[2.8,4.25],[2.9,4.2],[3,3.85],[3.1,3.9],[3.22,3.95],[3.35,3.5],[3.42,3.75],[3.58,3.9],[3.7,3.45],[3.8,3.5],[3.9,3.4]];

var conductivityRed = [[1.02,10],[1.07,9.96],[1.14,9.95],[1.19,9.95],[1.15,9.7],[1.24,9.13],[1.02,8.68],[1.98,8.68],[1.45,8.47],[1.13,8.42],[1.05,8.4],[1.1,8.13],[1.01,8.07],[1.03,8.1],[1.18,7.9],[1.35,8.12],[1.7,7.65],[1.75,7.63],[1.03,7.62],[1.07,7.4],[1.28,7.35],[1.32,7.32],[1.01,7.35],[1.16,7.22],[1.15,7.1],[1.95,6.98],[3.43,6.9],[1.25,6.85],[1.32,6.9],[1.08,6.85],[1.12,6.75],[1.56,6.75],[1.7,6.85],[1.88,6.75],[1.86,6.7],[3.35,6.55],[1.03,6.55],[1.1,6.55],[1.3,6.53],[2.3,6.52],[1.35,6.35],[1.9,6.32],[2,6.35],[1.22,6.3],[1.55,6.28],[1.58,6.2],[3.38,6.2],[1.05,6.1],[1.4,6.2],[3.75,6.03],[2.12,5.98],[2.28,6.03],[1.85,5.97],[1.5,5.9],[1.68,5.9],[1.07,5.9],[2.87,5.83],[1.12,5.8],[1.02,5.75],[1.08,5.65],[1.3,5.65],[1.7,5.7],[1.35,5.6],[1.95,5.62],[1.15,5.55],[1.9,5.55],[3.06,5.45],[1.55,5.4],[1.8,5.4],[2.35,5.45],[2.45,5.45],[2.2,5.35],[3.2,5.3],[1.7,5.25],[1.9,5.25],[2.75,5.1],[2.9,5.2],[3.66,5.2],[3.3,5.05],[1.02,5.1],[1.2,5],[1.1,5.05],[1.35,5.1],[1.55,5.1],[1.78,5.05],[2.55,5.15],[2.65,5],[2.15,5],[2.35,5.02],[2.85,5],[2.95,4.85],[3.15,4.85],[3.25,4.8],[3.5,4.7],[3.45,4.55],[2.3,4.8],[2.5,4.85],[1.02,4.7],[1.15,4.85],[1.4,4.7],[1.6,4.5],[1.75,4.75],[2,4.55],[2.35,4.65],[2.45,4.4],[2.65,4.6],[2.75,4.45],[3.05,4.55],[3.2,4.55],
[1.03,4.55],[1.05,4.3],[1.15,4.4],[1.25,4.15],[1.32,4.5],[1.42,4.35],[1.52,4.6],[1.55,4.3],[1.65,4.15],[1.72,4.2],[1.8,4.3],[1.9,4.45],[2,4.15],[2.1,4.3],[2.2,4.2],[2.3,4.25],[2.42,4.1],[2.55,4.25],[2.67,4],[2.85,4],[3.05,4],[3.15,3.95],[3.25,4.15],[3.4,3.85],[3.5,3.85],[3.68,4.2],[3.68,4],[3.8,4.1],[3.9,4.2],[3.75,3.85],[3.85,3.95],[1.05,3.9],[1.1,4.1],[1.2,4.05],[1.3,3.9],[1.38,3.75],[1.45,3.95],[1.6,3.95],[1.7,3.8],[1.8,3.95],[1.95,3.8],[2.05,3.95],[2.2,3.7],[2.3,3.85],[2.4,3.95],[2.5,3.75],[2.6,3.85],[2.75,3.85],[2.9,3.65],[3,3.55],[3.15,3.75],[3.25,3.6],[3.35,3.85],[3.45,3.55],[3.55,3.65],[3.65,3.55],[3.75,3.7],[3.85,3.6],[3.95,3.5],[1.03,3.6],[1.1,3.7],[1.2,3.6],[1.28,3.45],[1.38,3.55],[1.48,3.35],[1.58,3.5],[1.65,3.3],[1.75,3.55],[1.85,3.3],[1.95,3.5],[2.05,3.3],[2.15,3.55],[2.22,3.2],[2.32,3.45],[2.42,3.25],[2.52,3.4],[2.62,3.2],[2.72,3.45],[2.8,3.2],[2.9,3.4],[3,3.2],[3.1,3.45],[3.2,3.3],[3.3,3.1],[3.4,3.4],[3.5,3.2],[3.6,3.35],[3.7,3.15],[3.8,3.3],[3.9,3.1],[3.95,3.25],[1.02,3.15],[1.1,3.3],[1.18,3.2],[1.28,3.1],[1.38,3.2],[1.45,3],[1.55,3.15],[1.65,2.95],[1.72,3.1],[1.8,2.9],[1.9,3.05],[2,2.85],[2.08,3],[2.18,2.8],[2.28,3],[2.38,2.8],[2.48,3.05],[2.58,2.85],[2.65,3.05],[2.75,2.9],[2.85,3.05],[2.92,2.8],[3.02,2.95],[3.12,2.75],[3.22,2.95],[3.32,2.75],[3.42,2.95],[3.52,2.7],[3.62,2.9],[3.72,2.7],[3.82,2.9],[3.92,2.65],[3.97,2.85],[1.05,2.85],[1.12,2.7],[1.22,2.85],[1.3,2.6],[1.42,2.75],[1.52,2.55],[1.62,2.7],[1.7,2.45],[1.8,2.6],[1.88,2.45],[1.98,2.65],[2.08,2.4],[2.18,2.55],[2.28,2.4],[2.38,2.6],[2.48,2.35],[2.58,2.6],[2.68,2.35],[2.78,2.55],[2.88,2.3],[2.98,2.5],[3.08,2.3],[3.18,2.55],[3.28,2.3],[3.38,2.5],[3.48,2.25],[3.58,2.45],[3.68,2.25],[3.78,2.45],[3.88,2.25],[3.95,2.4],[1.6,2.2],[1.72,2],[1.85,2.25],[1.95,2.05],[2.05,2.2],[2.15,2.35],[2.25,2.1],[2.35,2.25],[2.45,2.1],[2.55,2.2],[2.65,2],[2.75,2.2],[2.85,2.05],[2.95,2.2],[3.05,2],[3.15,2.15],[3.25,1.95],[3.35,2.15],[3.45,1.95],[3.55,2.15],[3.65,1.95],[3.75,2.1],[3.85,1.95],[3.95,2.1],[2.1,1.9],[2.3,1.95],[2.5,1.9],[2.7,1.85],[2.9,1.9],[3.1,1.85],[3.3,1.8],[3.5,1.8],[3.7,1.75],[3.9,1.85],[3.12,1.6],[3.35,1.65],[3.55,1.6],[3.75,1.55],[3.9,1.6],[3.2,1.4],[3.4,1.5],[3.6,1.45],[3.75,1.3],[3.85,1.4],[1.8,1.4],[2.15,1.25],[2.35,1.15],[3.05,1.3],[3.3,1.15],[3.55,1.12],[3.62,1.02],[3.78,1.1],[3.88,1.05],[3.95,0.92],[3.45,0.85]];

var gradientBlue = [[.0196,10],[.0108,9.3],[.0109,9.24],[.0106,8.56],[.0184,8.28],[.0257,7.47],[.0185,7.35],[.012,6.67],[.0179,6.55],[.0188,6.55],[.0188,6.45],[.0209,6.42],[.0128,6.25],[.0197,5.65],[.0179,5.66],[.0238,5.65],[.0187,5.42],[.0174,5.42],[.0238,5.38],[.012,5.38],[.0146,5.38],[.0392,5.42],[.0392,5.2],[.0113,5.2],[.0137,4.98],[.0208,4.98],[.0352,4.8],[.0392,4.8],[.0177,4.85],[.0168,4.7],[.0165,4.65],[.0229,4.72],[.0198,4.62],[.0279,4.35],[.0283,4.4],[.0273,4.3],[.0425,4.35],[.0426,4.3],[.0211,4.3],[.0145,4.28],[.0202,4.55],[.031,4.1],[.0232,4],[.0284,3.65],[.0293,3.7],[.0296,3.45],[.0271,3.7],[.0325,3.9],[.0322,3.5],[.0338,3.55],[.0356,3.65],[.0394,3.65],[.0431,3.4],[.0362,3.3],[.0227,3.3],[.0496,3.17],[.0427,3.07],[.0442,3.05],[.0426,3.1],[.0478,2.88],[.0393,2.85],[.0408,2.95],[.0453,2.95],[.0449,2.85],[.0431,2.8],[.0445,2.75],[.0463,2.8],[.0469,2.25],[.042,2.4],[.0427,2.3],[.0429,2.4],[.0485,2.35],[.0455,2.2],[.0458,2.1],[.0447,2.15],[.0475,2.15],[.0487,2.25],[.049,2.3],[.0492,2.15],[.0455,1.9],[.0412,2.1],[.0435,2.05],[.0412,2],[.0482,1.95],[.0478,2.05],[.0464,1.95],[.0473,1.8],[.0432,1.9],[.0472,1.9],
[.0105,3.2],[.0109,3.1],[.0112,2.95],[.0118,2.75],[.0126,2.9],[.0132,3.05],[.014,2.7],[.0146,2.95],[.0155,3.2],[.0158,2.55],[.0166,2.8],[.0172,3.2],[.0178,3],[.0186,2.85],[.0194,2.55],[.0204,2.7],[.0212,2.95],[.0218,2.6],[.0224,2.9],[.0233,3.05],[.024,2.7],[.0248,2.5],[.0255,2.85],[.0263,2.45],[.0272,2.5],[.028,2.35],[.0288,2.5],[.0298,2.6],[.0304,2.3],[.0314,2.65],[.032,2.3],[.033,2.2],[.0342,2.45],[.0356,2.5],[.0367,2.3],[.0378,2.45],[.0386,2.25],[.0395,2.4],[.0402,2.1],[.0405,1.95],
[.0101,2.25],[.0104,2.35],[.0107,2.45],[.011,1.85],[.0113,2.3],[.0116,1.95],[.0119,2.2],[.0122,1.8],[.0125,2.05],[.0128,1.75],[.0131,2.15],[.0134,1.9],[.0137,2.3],[.014,1.75],[.0143,1.95],[.0146,2.15],[.015,1.7],[.0153,2],[.0156,2.3],[.0159,1.7],[.0162,2.5],[.0165,1.9],[.0168,2.3],[.0171,1.75],[.0174,2.15],[.0177,2],[.018,1.7],[.0183,2.4],[.0186,1.85],[.0189,2.1],[.0193,1.7],[.0196,2.25],[.02,1.95],[.0204,2.15],[.0207,1.7],[.021,2.5],[.0214,1.9],[.0218,2.2],[.0222,1.7],[.0226,2],[.023,2.25],[.0234,1.75],[.0238,2.15],[.0242,1.9],[.0246,2.1],[.025,1.7],[.0254,2.3],[.0258,2],[.0262,2.35],[.0266,1.8],[.027,2.1],[.0274,2.35],[.0278,1.7],[.0282,2.1],[.0286,1.85],[.029,2.2],[.0294,1.7],[.0298,2.05],[.0302,1.85],[.0306,2.2],[.031,1.7],[.0314,2.05],[.0318,2.3],[.0322,1.75],[.0326,2],[.033,1.7],[.0335,2.1],[.034,1.7],[.0345,1.95],[.035,1.75],[.0355,2.1],[.036,1.65],[.0365,1.9],[.037,1.7],[.0375,2.05],[.038,1.7],[.0385,1.9],[.039,1.7],[.0395,2],[.0398,1.6],
[.0125,1.1],[.0128,1.15],[.0132,1.2],[.0136,1.35],[.014,1.25],[.0144,1.38],[.015,0.8],[.0152,1.3],[.0156,0.95],[.0159,1.25],[.0163,0.75],[.0167,1.35],[.017,1],[.0173,0.85],[.0177,1.1],[.0179,0.72],[.0182,1.2],[.0186,0.85],[.0189,1.3],[.0193,1],[.0197,1.25],[.02,0.8],[.0203,1.15],[.0207,0.95],[.021,1.25],[.0213,0.85],[.0216,1.1],[.022,1.3],[.0224,1.05],[.0228,0.95],[.0232,0.68],[.0235,1.1],[.0238,0.7],[.0242,1],[.0245,1.25],[.0248,0.82],[.0252,1.15],[.0255,0.85],[.0258,1.3],[.026,0.65],[.0263,1],[.0266,0.8],[.0268,1.2],[.0271,0.65],[.0274,1],[.0277,0.85],[.028,1.2],[.0283,0.7],[.0286,1.05],[.0289,0.9],[.0292,1.3],[.0295,0.85],[.0298,1.1],[.03,0.7],[.0303,1.25],[.0306,0.65],[.0309,1],[.0312,0.85],[.0315,1.2],[.0318,0.65],[.0321,1],[.0324,0.85],[.0327,1.2],[.033,0.7],[.0333,1],[.0336,0.8],[.0339,1.2],[.0342,0.72],[.0345,1],[.0348,0.75],[.0351,1.25],[.0354,0.7],[.0357,1],[.036,0.85],[.0363,1.15],[.0366,0.68],[.0369,0.95],[.0372,1.25],[.0375,0.75],[.0378,1.05],[.0381,0.85],[.0384,0.7],[.0387,1.15],[.039,0.8],[.0393,1],[.0396,0.7],[.0399,1.25],[.0402,0.85],[.0405,1.1],[.0408,0.7],[.0411,0.95],[.0414,0.7],[.0417,1.2],[.042,0.8],[.0423,1],[.0426,0.7],[.0429,1.25],[.0432,0.85],[.0435,1.05],[.0438,0.65],[.0441,0.9],[.0444,1.25],[.0447,0.72],[.045,1],[.0453,0.8],[.0456,1.15],[.0459,0.7],[.0462,1],[.0465,1.25],[.0468,0.75],[.0471,0.95],[.0474,1.2],[.0477,0.65],[.048,0.85],[.0483,1.1],[.0486,0.7],[.0489,0.95],[.0492,1.2],[.0494,0.6],[.0496,0.8],[.0498,1.05],[.05,0.75],[.0497,1.1],[.0499,0.95],[.0501,1.1],[.0412,1.4],[.0425,1.42],[.044,1.4],[.0455,1.4],[.047,1.38],[.0485,1.4],[.05,1.4],[.0375,1.42],[.0395,1.4]];

// second reading pass over the low band of the Gradient panel
var gradientBlueBand = [[.0103,2.4],[.0106,2.15],[.0109,2.1],[.0112,1.8],[.0115,2.55],[.0118,2.05],[.0121,1.95],[.0124,1.6],[.0127,2.3],[.013,1.65],[.0133,2.2],[.0136,1.75],[.0139,2.1],[.0142,1.65],[.0145,1.85],[.0148,1.6],[.0151,1.85],[.0154,1.6],[.0157,2],[.016,1.85],[.0164,1.65],[.0168,1.9],[.0172,1.65],[.0176,1.85],[.018,1.6],[.0184,1.85],[.0188,1.65],[.0192,1.9],[.0196,1.65],[.0201,1.8],[.0206,1.6],[.0211,1.85],[.0216,1.65],[.0221,1.85],[.0226,1.6],[.0231,1.9],[.0236,1.6],[.0241,1.7],[.0245,1.6],[.0252,1.9],[.0257,1.65],[.0262,1.7],[.0267,1.6],[.0272,1.85],[.0277,1.55],[.0282,1.8],[.0288,1.6],[.0293,1.85],[.0298,1.6],[.0303,1.75],[.0308,1.55],[.0313,1.8],[.0318,1.6],[.0323,1.55],[.0328,1.8],[.0333,1.6],[.0338,1.85],[.0343,1.55],[.0348,1.7],[.0353,1.55],[.0358,1.8],[.0363,1.55],[.0368,1.75],[.0373,1.55],[.0378,1.75],[.0383,1.55],[.0388,1.75],[.0393,1.55],[.0398,1.75],[.0403,1.6],[.0408,1.65],[.0413,1.7],[.0418,1.55],[.0428,1.75],[.0438,1.7],[.0448,1.65],[.0458,1.65],[.0468,1.6],[.0478,1.7],[.0488,1.65],[.0498,1.55],
[.0118,1.3],[.0122,1.3],[.0126,1],[.0131,1],[.0135,0.95],[.0139,1.1],[.0143,1.2],[.0148,0.95],[.0154,1.15],[.0158,0.85],[.0161,1.05],[.0165,1.15],[.0169,1.3],[.0172,1.15],[.0175,0.95],[.0179,1.3],[.0184,1.05],[.0188,0.8],[.0191,1.15],[.0195,0.85],[.0199,1.05],[.0202,1.25],[.0205,0.85],[.0209,1.1],[.0212,0.72],[.0215,1.2],[.0218,0.95],[.0222,0.85],[.0226,1.2],[.023,1],[.0233,0.8],[.0237,1.15],[.024,0.85],[.0244,1.15],[.0247,1.05],[.025,1.25],[.0253,0.95],[.0257,1.15],[.0261,0.85],[.0264,1.15],[.0267,1],[.027,0.75],[.0273,1.25],[.0276,0.95],[.0279,1.1],[.0282,0.85],[.0285,1.25],[.0288,0.72],[.0291,1.05],[.0294,1.2],[.0297,0.75],[.03,0.95],[.0302,1.1],[.0305,0.8],[.0308,1.2],[.0311,1],[.0314,0.7],[.0317,1.05],[.032,0.8],[.0323,1.2],[.0326,0.72],[.0329,0.95],[.0332,1.2],[.0335,0.85],[.0338,1],[.0341,0.85],[.0344,1.2],[.0347,0.85],[.035,1.05],[.0353,0.85],[.0356,1.2],[.0359,0.72],[.0362,1],[.0365,1.2],[.0368,0.8],[.0371,1.05],[.0374,0.85],[.0377,1.2],[.038,0.72],[.0383,1.05],[.0386,0.85],[.0389,1.25],[.0392,0.8],[.0395,1.15],[.0398,0.95],[.0401,1.2],[.0404,0.72],[.0407,1],[.041,1.2],[.0413,0.85],[.0416,1],[.0419,0.7],[.0422,1.2],[.0425,0.85],[.0428,1],[.0431,0.72],[.0434,1.2],[.0437,0.85],[.044,1.1],[.0443,0.72],[.0446,1],[.0449,1.2],[.0452,0.72],[.0455,0.95],[.0458,1.2],[.0461,0.85],[.0464,1.1],[.0467,0.8],[.047,1.2],[.0473,0.75],[.0476,1],[.0479,1.2],[.0482,0.72],[.0485,1],[.0488,1.2],[.0491,0.85],[.0493,1.05]];

// second reading pass over the red cloud of the Gradient panel
var gradientRedExtra = [[.0102,3.15],[.0106,3.1],[.011,2.6],[.0113,3.5],[.0116,3.35],[.012,3.9],[.0124,3.55],[.0128,3.75],[.0132,3.45],[.0136,3.2],[.014,3.75],[.0144,3.4],[.0148,3.85],[.0152,3.25],[.0156,3.65],[.016,3.4],[.0164,3.15],[.0168,3.6],[.0172,3.3],[.0176,3.7],[.018,3.3],[.0184,3.75],[.0188,3.55],[.0192,3.35],[.0196,3.75],[.02,3.55],[.0204,3.2],[.021,3.4],[.0214,3.15],[.0219,3.4],[.0224,3.1],[.0229,3.35],[.0234,3],[.0239,3.2],[.0244,3.05],[.0249,3.35],[.0254,3],[.0259,3.25],[.0264,3.05],[.0269,3.3],[.0274,3],[.0279,3.25],[.0284,3.05],[.0289,3.2],[.0294,3],[.0299,3.2],[.0304,2.85],[.0309,3.1],[.0314,2.8],[.0319,3.1],[.0324,2.85],[.0329,3.15],[.0334,2.85],[.0339,3.1],[.0344,2.85],[.0349,3],[.0354,2.9],[.0359,3.1],[.0364,2.9],[.0369,3.05],[.0374,2.75],[.0379,3.1],[.0384,2.75],[.0389,2.95],[.0394,2.65],[.0398,2.6],
[.0226,2.3],[.023,2.05],[.0238,2.45],[.0246,2.1],[.0254,2.3],[.0258,1.95],[.0262,2.5],[.027,2.2],[.0274,2.5],[.0278,2.05],[.0286,2.3],[.029,2],[.0294,2.35],[.0299,2.15],[.0302,2.5],[.0306,2.15],[.031,2.4],[.0314,1.95],[.0318,2.45],[.0322,2],[.0326,2.35],[.033,2.05],[.0334,2.5],[.0338,2.05],[.0342,2.35],[.0346,1.95],[.035,2.25],[.0354,2],[.0358,2.3],[.0362,1.9],[.0366,2.25],[.037,1.9],[.0374,2.35],[.0378,2],[.0382,2.2],[.0386,1.95],[.039,2.25],[.0394,1.95],[.0397,2.35],[.0228,1.7],[.0245,1.65],[.0265,1.6],[.0285,1.65],[.0305,1.55],[.0325,1.6],[.0345,1.55],[.0365,1.6],[.0385,1.55],[.0395,1.5]];

var gradientRed = [[.0106,9.95],[.0108,9.95],[.0163,10],[.0173,10],[.0164,9.75],[.0158,9.15],[.0114,8.68],[.0218,8.68],[.0155,8.45],[.0169,8.4],[.0182,8.45],[.0113,8.13],[.0114,8.1],[.0121,8.07],[.0169,8.1],[.0159,7.88],[.0173,7.6],[.0174,7.52],[.0172,7.53],[.0203,7.3],[.0203,7.2],[.0136,7.3],[.0128,7.22],[.0142,7.3],[.0144,7.32],[.0159,7.27],[.0278,6.9],[.0215,6.9],[.011,7.13],[.0106,6.87],[.0114,6.85],[.0136,6.9],[.0126,6.87],[.0155,6.83],[.0163,6.75],[.0171,6.8],[.0237,6.72],[.0322,6.7],[.0322,6.48],[.0105,6.5],[.0111,6.7],[.0118,6.5],[.0178,6.5],[.0194,6.5],[.0199,6.5],[.0184,6.4],[.0182,6.3],[.0256,6.42],[.0264,6.2],[.0142,6.33],[.0235,6.12],[.0321,6.02],[.0322,5.95],[.0105,6],[.0112,6.2],[.0129,6.2],[.0121,6.05],[.012,5.95],[.0127,5.83],[.0133,6.05],[.0148,5.75],[.0172,5.85],[.0175,5.7],[.0159,5.75],[.0138,5.8],[.0146,5.55],[.0149,5.55],[.0229,5.7],[.0229,5.65],[.0342,5.88],[.0343,5.8],[.0223,5.55],[.029,5.55],[.0201,5.55],[.0185,5.55],[.0218,5.5],[.0238,5.55],[.0248,5.5],[.0264,5.42],[.0156,5.5],[.0166,5.35],[.0177,5.4],[.0103,5.38],[.0102,5.28],[.0106,5.3],[.0114,5.3],[.0117,5.2],[.0127,5.37],[.0132,5.4],[.0187,5.3],[.0172,5.25],[.0195,5.25],[.0178,5.1],[.0254,5.25],[.026,5.15],[.0268,5.3],[.027,5.27],[.0312,5.12],[.0247,5.1],[.0245,5],[.0283,5.05],[.0322,5],[.0328,5.05],[.0345,4.85],[.0304,4.85],[.0381,4.8],[.0216,4.85],[.0233,5],[.0227,4.85],[.0236,4.9],[.0244,4.75],[.0255,4.95],[.0266,4.95],
[.0106,4.95],[.0111,4.87],[.0114,4.75],[.0118,4.85],[.0124,5.1],[.0127,4.95],[.0132,5.1],[.014,5.1],[.0148,5],[.0153,4.9],[.0157,5.3],[.0163,4.8],[.0167,4.6],[.0172,4.7],[.0176,4.5],[.0185,4.85],[.0189,4.55],[.0192,4.72],[.0197,4.5],[.0206,4.55],[.0212,4.9],[.022,4.85],[.0224,4.7],[.0229,4.4],[.0238,4.3],[.0246,4.7],[.0252,4.5],[.0258,4.4],[.0265,4.45],[.028,4.2],[.0293,4.3],[.0305,4.2],[.0318,4.4],[.0327,4.3],[.0342,4.55],[.0347,4.45],[.0351,4.2],[.0358,4.45],[.0394,4.1],[.0362,3.9],[.0373,4.1],[.0385,3.85],[.0102,4.4],[.0104,4.6],[.0108,4.2],[.0112,4.35],[.0116,4.25],[.012,4.15],[.0125,4.4],[.013,4.3],[.0135,4],[.0138,4.35],[.0142,4.2],[.0146,3.9],[.0155,4.4],[.0158,4.25],[.0162,4],[.0168,4.35],[.0172,4.1],[.0176,3.9],[.018,4.3],[.0184,4.05],[.0188,4.2],[.0192,3.95],[.0196,4.3],[.02,4.05],[.0205,3.85],[.0212,3.65],[.0218,3.95],[.0226,3.8],[.0232,3.95],[.0238,3.75],[.0245,3.9],[.0255,3.95],[.0262,3.85],[.0268,3.6],[.0275,3.85],[.0285,3.7],[.0295,3.85],[.0304,3.5],[.0312,3.9],[.032,3.85],[.0333,3.85],[.0342,3.45],[.0347,3.7],[.0355,3.35],[.0364,3.4],[.0371,3.1],[.0378,3.55],[.0386,3.45],[.0392,3.3],
[.0105,3.7],[.0108,3.5],[.0111,3.65],[.0115,3.5],[.0118,3.3],[.0122,3.7],[.0126,3.45],[.013,3.2],[.0134,3.6],[.0138,3.3],[.0142,3.5],[.0146,3.05],[.015,3.6],[.0154,3.4],[.0158,3.15],[.0162,3.55],[.0166,3.3],[.017,3.05],[.0174,3.45],[.0178,3.2],[.0182,3.5],[.0186,3.15],[.019,3.35],[.0194,3.05],[.0198,3.3],[.0203,3.5],[.0208,3.1],[.0213,3.35],[.0217,3.05],[.0222,3.45],[.0227,3.2],[.0232,3.4],[.0237,3.05],[.0242,3.3],[.0247,3.5],[.0252,3.1],[.0257,3.4],[.0262,3.15],[.0267,3.45],[.0272,3.1],[.0277,3.4],[.0282,3.15],[.0287,3],[.0292,3.35],[.0297,3.1],[.0302,3],[.0307,3.2],[.0312,2.95],[.0317,3.3],[.0322,3.05],[.0327,3.3],[.0332,3],[.0337,3.2],[.0342,2.95],[.0347,3.15],[.0352,3],[.0357,3.25],[.0362,3],[.0367,3.2],[.0372,2.85],[.0377,3],[.0382,3.25],[.0387,2.85],[.0392,3.05],[.0396,2.8],
[.0108,2.9],[.0112,2.7],[.0118,2.9],[.0124,3],[.013,2.85],[.0135,2.7],[.0142,2.9],[.015,2.8],[.0158,2.7],[.0166,2.85],[.0174,2.9],[.0182,2.65],[.019,2.7],[.0198,2.75],[.0204,2.55],[.021,2.65],[.0215,2.35],[.0219,2.6],[.0223,2.25],[.0228,2.6],[.0232,2.45],[.0236,2.2],[.024,2.55],[.0244,2.3],[.0248,2.75],[.0252,2.45],[.0256,2.15],[.026,2.65],[.0264,2.35],[.0268,2.1],[.0272,2.6],[.0276,2.3],[.028,2.8],[.0284,2.45],[.0288,2.1],[.0292,2.55],[.0296,2.25],[.03,2.7],[.0304,2.35],[.0308,2.05],[.0312,2.6],[.0316,2.25],[.032,2.55],[.0324,2.1],[.0328,2.45],[.0332,2.75],[.0336,2.2],[.034,2.55],[.0344,2.05],[.0348,2.4],[.0352,2.15],[.0356,2.45],[.036,2.75],[.0364,2.1],[.0368,2.4],[.0372,2.55],[.0376,2.1],[.038,2.35],[.0384,2.6],[.0388,2.1],[.0392,2.4],[.0396,2.55],[.0398,2.2],
[.022,1.85],[.0228,2],[.0234,1.75],[.0242,1.9],[.025,1.8],[.0258,1.95],[.0266,1.75],[.0274,1.95],[.0282,1.8],[.029,1.95],[.0298,1.8],[.0306,1.75],[.0314,1.9],[.0322,1.7],[.033,1.85],[.0338,1.75],[.0346,1.95],[.0354,1.65],[.0362,1.85],[.037,1.75],[.0378,1.9],[.0386,1.75],[.0394,1.6],[.0398,1.85],[.0215,1.5],[.0237,1.45],[.026,1.2],[.0265,1.4],[.029,1.3],[.0305,1.15],[.0318,1.2],[.0332,1.25],[.0345,1.05],[.0358,1.15],[.0368,1.1],[.0375,1.3],[.0388,1.3],[.0112,2.15],[.0128,2.2],[.0145,2.2],[.0158,1.8],[.017,1.9],[.0185,1.9],[.02,2.1],[.0205,1.3]];

var panels = [
  {title:"Distance (m)", blue:distanceBlue.concat(distanceBlueBand), red:distanceRed, domain:[50,100], ticks:distanceTicks, labels:null,
   left:117.6, right:921.6, top:113.5, bottom:489.3, box:[12,5,954,499], titleX:461, titleY:66},
  {title:"Half-life (years)", blue:halfLifeBlue.concat(halfLifeBlueBand), red:halfLifeRed.concat(halfLifeRedExtra), domain:[5,30], ticks:halfLifeTicks, labels:null,
   left:1063.8, right:1872.6, top:113.3, bottom:489.3, box:[955,4,1884,499], titleX:1426, titleY:66},
  {title:"Hydraulic Conductivity (m/s)", blue:conductivityBlue.concat(conductivityBlueBand), red:conductivityRed.concat(conductivityRedExtra), domain:[1,10], ticks:conductivityTicks, labels:conductivityLabels,
   left:116.3, right:924, top:607.7, bottom:985.7, box:[12,500,954,994], titleX:467, titleY:559},
  {title:"Hydraulic Gradient (m/m)", blue:gradientBlue.concat(gradientBlueBand), red:gradientRed.concat(gradientRedExtra), domain:[0.01,0.05], ticks:gradientTicks, labels:null,
   left:1062.6, right:1863.6, top:608.3, bottom:986.3, box:[955,500,1884,994], titleX:1429, titleY:559}
];

var svg = d3.select("#chart").append("svg")
    .attr("width",1884)
    .attr("height",994);

function drawPanel(p){
  svg.append("rect")
    .attr("x",p.box[0]).attr("y",p.box[1])
    .attr("width",p.box[2]-p.box[0]).attr("height",p.box[3]-p.box[1])
    .attr("fill","#fff").attr("stroke","#dcdcdc").attr("stroke-width",1.5);

  var x = d3.scaleLinear().domain(p.domain).range([p.left,p.right]);
  var y = d3.scaleLog().domain([1,1e11]).range([p.bottom,p.top]);
  var yTicks = yExponents.map(function(e){return Math.pow(10,e);});

  var xGrid = svg.append("g")
    .attr("transform","translate(0,"+p.bottom+")")
    .call(d3.axisBottom(x).tickValues(p.ticks).tickSize(p.top-p.bottom).tickFormat(""));
  var yGrid = svg.append("g")
    .attr("transform","translate("+p.left+",0)")
    .call(d3.axisLeft(y).tickValues(yTicks).tickSize(p.left-p.right).tickFormat(""));
  [xGrid,yGrid].forEach(function(g){
    g.select(".domain").remove();
    g.selectAll("line").attr("stroke","#d9d9d9").attr("stroke-width",1.4);
  });
  svg.append("path")
    .attr("d","M"+p.left+","+p.top+"V"+p.bottom+"H"+p.right)
    .attr("fill","none").attr("stroke","#c8c8c8").attr("stroke-width",1.6);

  var xFormat = p.labels ? function(d,i){return p.labels[i];} : function(d){return String(d);};
  var xAxis = svg.append("g")
    .attr("transform","translate(0,"+p.top+")")
    .call(d3.axisTop(x).tickValues(p.ticks).tickSize(0).tickPadding(15).tickFormat(xFormat));
  var yAxis = svg.append("g")
    .attr("transform","translate("+p.left+",0)")
    .call(d3.axisLeft(y).tickValues(yTicks).tickSize(0).tickPadding(13).tickFormat(function(d){
      var e = Math.round(Math.log10(d));
      return "1E+"+(e<10?"0":"")+e;
    }));
  [xAxis,yAxis].forEach(function(g){
    g.select(".domain").remove();
    g.selectAll("text").attr("fill","#6a6a6a").attr("font-family","'Open Sans'").attr("font-size",12);
  });

  svg.append("g").selectAll("circle").data(p.blue).enter().append("circle")
    .attr("cx",function(d){return x(d[0]);})
    .attr("cy",function(d){return y(Math.pow(10,d[1]));})
    .attr("r",4.6).attr("fill","#4f81bd");
  svg.append("g").selectAll("circle").data(p.red).enter().append("circle")
    .attr("cx",function(d){return x(d[0]);})
    .attr("cy",function(d){return y(Math.pow(10,d[1]));})
    .attr("r",3.1).attr("fill","#c00000");

  [[guidelineOrange,"#ffc000"],[guidelineBlue,"#00b0f0"]].forEach(function(l){
    svg.append("line")
      .attr("x1",p.left).attr("x2",p.right)
      .attr("y1",y(l[0])).attr("y2",y(l[0]))
      .attr("stroke",l[1]).attr("stroke-width",4);
  });

  svg.append("text")
    .attr("x",p.titleX)
    .attr("y",p.titleY)
    .attr("text-anchor","middle")
    .attr("font-family","Roboto").attr("font-size",45)
    .attr("fill","#0e2841")
    .text(p.title);

  var midY = (p.top+p.bottom)/2;
  svg.append("text")
    .attr("transform","translate("+(p.left-58)+","+midY+") rotate(-90)")
    .attr("text-anchor","middle")
    .attr("font-family","'Open Sans'").attr("font-size",14)
    .attr("fill","#6a6a6a")
    .text("Guideline (mg/kg)");
}

panels.forEach(drawPanel);
</script>
</body>
</html>
